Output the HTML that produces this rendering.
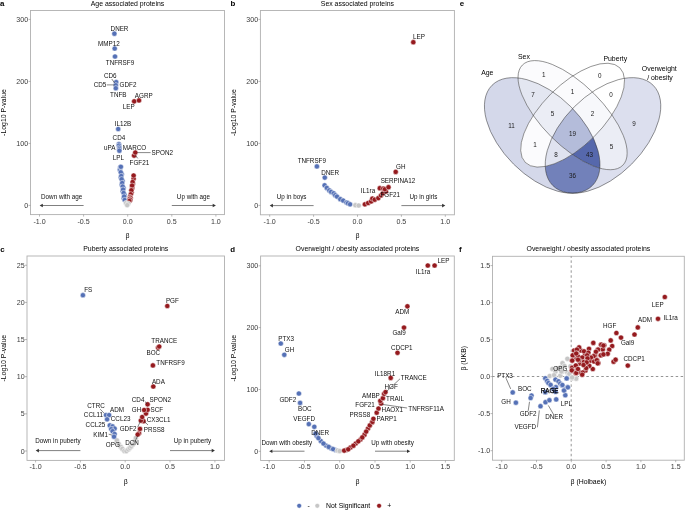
<!DOCTYPE html>
<html><head><meta charset="utf-8"><style>
html,body{margin:0;padding:0;background:#fff;width:685px;height:510px;overflow:hidden}
svg{display:block;font-family:"Liberation Sans",sans-serif;will-change:transform}
</style></head><body>
<svg width="685" height="510" viewBox="0 0 685 510" font-family="Liberation Sans, sans-serif"><rect x="30.50" y="10.50" width="194.00" height="204.10" fill="none" stroke="#b0b0b0" stroke-width="0.9"/>
<line x1="39.50" y1="214.60" x2="39.50" y2="216.60" stroke="#8c8c8c" stroke-width="0.6" />
<text x="39.50" y="223.59" font-size="7.1" text-anchor="middle" fill="#3a3a3a">-1.0</text>
<line x1="83.60" y1="214.60" x2="83.60" y2="216.60" stroke="#8c8c8c" stroke-width="0.6" />
<text x="83.60" y="223.59" font-size="7.1" text-anchor="middle" fill="#3a3a3a">-0.5</text>
<line x1="127.70" y1="214.60" x2="127.70" y2="216.60" stroke="#8c8c8c" stroke-width="0.6" />
<text x="127.70" y="223.59" font-size="7.1" text-anchor="middle" fill="#3a3a3a">0.0</text>
<line x1="171.80" y1="214.60" x2="171.80" y2="216.60" stroke="#8c8c8c" stroke-width="0.6" />
<text x="171.80" y="223.59" font-size="7.1" text-anchor="middle" fill="#3a3a3a">0.5</text>
<line x1="215.90" y1="214.60" x2="215.90" y2="216.60" stroke="#8c8c8c" stroke-width="0.6" />
<text x="215.90" y="223.59" font-size="7.1" text-anchor="middle" fill="#3a3a3a">1.0</text>
<text x="127.50" y="238.12" font-size="6.9" text-anchor="middle" fill="#000">β</text>
<line x1="28.50" y1="205.40" x2="30.50" y2="205.40" stroke="#8c8c8c" stroke-width="0.6" />
<text x="28.20" y="207.99" font-size="7.1" text-anchor="end" fill="#3a3a3a">0</text>
<line x1="28.50" y1="143.40" x2="30.50" y2="143.40" stroke="#8c8c8c" stroke-width="0.6" />
<text x="28.20" y="145.99" font-size="7.1" text-anchor="end" fill="#3a3a3a">100</text>
<line x1="28.50" y1="81.40" x2="30.50" y2="81.40" stroke="#8c8c8c" stroke-width="0.6" />
<text x="28.20" y="83.99" font-size="7.1" text-anchor="end" fill="#3a3a3a">200</text>
<line x1="28.50" y1="19.40" x2="30.50" y2="19.40" stroke="#8c8c8c" stroke-width="0.6" />
<text x="28.20" y="21.99" font-size="7.1" text-anchor="end" fill="#3a3a3a">300</text>
<text transform="translate(6.40,112.55) rotate(-90)" x="0" y="0" font-size="6.9" text-anchor="middle" fill="#000">-Log10 P-value</text>
<text x="127.50" y="5.80" font-size="6.9" text-anchor="middle" fill="#000">Age associated proteins</text>
<text x="0.00" y="5.90" font-size="7.9" text-anchor="start" fill="#000" font-weight="bold">a</text>
<text x="61.70" y="198.70" font-size="6.3" text-anchor="middle" fill="#111">Down with age</text>
<line x1="83.60" y1="205.50" x2="41.80" y2="205.50" stroke="#555" stroke-width="0.75" />
<path d="M39.60,205.50 L42.80,203.70 L42.80,207.30 Z" fill="#333"/>
<text x="193.50" y="198.70" font-size="6.3" text-anchor="middle" fill="#111">Up with age</text>
<line x1="171.80" y1="205.50" x2="213.70" y2="205.50" stroke="#555" stroke-width="0.75" />
<path d="M215.90,205.50 L212.70,203.70 L212.70,207.30 Z" fill="#333"/>
<circle cx="119.91" cy="169.65" r="2.6" fill="#5571b6" stroke="#fff" stroke-width="0.5"/>
<circle cx="121.70" cy="174.15" r="2.6" fill="#5571b6" stroke="#fff" stroke-width="0.5"/>
<circle cx="120.83" cy="177.60" r="2.6" fill="#5571b6" stroke="#fff" stroke-width="0.5"/>
<circle cx="122.59" cy="181.10" r="2.6" fill="#5571b6" stroke="#fff" stroke-width="0.5"/>
<circle cx="121.79" cy="184.75" r="2.6" fill="#5571b6" stroke="#fff" stroke-width="0.5"/>
<circle cx="123.57" cy="188.05" r="2.6" fill="#5571b6" stroke="#fff" stroke-width="0.5"/>
<circle cx="122.75" cy="191.30" r="2.6" fill="#5571b6" stroke="#fff" stroke-width="0.5"/>
<circle cx="124.57" cy="194.75" r="2.6" fill="#5571b6" stroke="#fff" stroke-width="0.5"/>
<circle cx="123.82" cy="198.25" r="2.6" fill="#5571b6" stroke="#fff" stroke-width="0.5"/>
<circle cx="120.30" cy="167.00" r="2.6" fill="#5571b6" stroke="#fff" stroke-width="0.5"/>
<circle cx="120.79" cy="172.30" r="2.6" fill="#5571b6" stroke="#fff" stroke-width="0.5"/>
<circle cx="121.23" cy="176.00" r="2.6" fill="#5571b6" stroke="#fff" stroke-width="0.5"/>
<circle cx="121.63" cy="179.20" r="2.6" fill="#5571b6" stroke="#fff" stroke-width="0.5"/>
<circle cx="122.15" cy="183.00" r="2.6" fill="#5571b6" stroke="#fff" stroke-width="0.5"/>
<circle cx="122.64" cy="186.50" r="2.6" fill="#5571b6" stroke="#fff" stroke-width="0.5"/>
<circle cx="123.09" cy="189.60" r="2.6" fill="#5571b6" stroke="#fff" stroke-width="0.5"/>
<circle cx="123.61" cy="193.00" r="2.6" fill="#5571b6" stroke="#fff" stroke-width="0.5"/>
<circle cx="124.15" cy="196.50" r="2.6" fill="#5571b6" stroke="#fff" stroke-width="0.5"/>
<circle cx="124.70" cy="200.00" r="2.6" fill="#5571b6" stroke="#fff" stroke-width="0.5"/>
<circle cx="133.61" cy="178.75" r="2.6" fill="#951a1e" stroke="#fff" stroke-width="0.5"/>
<circle cx="132.85" cy="183.80" r="2.6" fill="#951a1e" stroke="#fff" stroke-width="0.5"/>
<circle cx="132.22" cy="187.95" r="2.6" fill="#951a1e" stroke="#fff" stroke-width="0.5"/>
<circle cx="131.56" cy="192.30" r="2.6" fill="#951a1e" stroke="#fff" stroke-width="0.5"/>
<circle cx="133.60" cy="175.50" r="2.6" fill="#951a1e" stroke="#fff" stroke-width="0.5"/>
<circle cx="132.62" cy="182.00" r="2.6" fill="#951a1e" stroke="#fff" stroke-width="0.5"/>
<circle cx="132.08" cy="185.60" r="2.6" fill="#951a1e" stroke="#fff" stroke-width="0.5"/>
<circle cx="131.37" cy="190.30" r="2.6" fill="#951a1e" stroke="#fff" stroke-width="0.5"/>
<circle cx="130.76" cy="194.30" r="2.6" fill="#951a1e" stroke="#fff" stroke-width="0.5"/>
<circle cx="129.95" cy="197.00" r="2.6" fill="#951a1e" stroke="#fff" stroke-width="0.5"/>
<circle cx="130.60" cy="198.00" r="2.6" fill="#951a1e" stroke="#fff" stroke-width="0.5"/>
<circle cx="129.65" cy="199.00" r="2.6" fill="#951a1e" stroke="#fff" stroke-width="0.5"/>
<circle cx="130.30" cy="200.00" r="2.6" fill="#951a1e" stroke="#fff" stroke-width="0.5"/>
<circle cx="129.35" cy="201.00" r="2.6" fill="#951a1e" stroke="#fff" stroke-width="0.5"/>
<circle cx="126.00" cy="203.00" r="2.6" fill="#c6c6c6" stroke="#fff" stroke-width="0.5"/>
<circle cx="128.30" cy="203.50" r="2.6" fill="#c6c6c6" stroke="#fff" stroke-width="0.5"/>
<circle cx="127.20" cy="205.10" r="2.6" fill="#c6c6c6" stroke="#fff" stroke-width="0.5"/>
<circle cx="114.40" cy="33.70" r="2.6" fill="#5571b6" stroke="#fff" stroke-width="0.5"/>
<circle cx="114.70" cy="48.50" r="2.6" fill="#5571b6" stroke="#fff" stroke-width="0.5"/>
<circle cx="115.00" cy="56.50" r="2.6" fill="#5571b6" stroke="#fff" stroke-width="0.5"/>
<circle cx="116.20" cy="82.10" r="2.6" fill="#5571b6" stroke="#fff" stroke-width="0.5"/>
<circle cx="115.80" cy="85.20" r="2.6" fill="#5571b6" stroke="#fff" stroke-width="0.5"/>
<circle cx="115.80" cy="88.20" r="2.6" fill="#5571b6" stroke="#fff" stroke-width="0.5"/>
<circle cx="134.20" cy="101.30" r="2.6" fill="#951a1e" stroke="#fff" stroke-width="0.5"/>
<circle cx="139.00" cy="100.40" r="2.6" fill="#951a1e" stroke="#fff" stroke-width="0.5"/>
<circle cx="118.20" cy="129.00" r="2.6" fill="#5571b6" stroke="#fff" stroke-width="0.5"/>
<circle cx="118.90" cy="144.10" r="2.6" fill="#5571b6" stroke="#fff" stroke-width="0.5"/>
<circle cx="118.90" cy="145.60" r="2.6" fill="#5571b6" stroke="#fff" stroke-width="0.5"/>
<circle cx="119.40" cy="147.60" r="2.6" fill="#5571b6" stroke="#fff" stroke-width="0.5"/>
<circle cx="119.40" cy="149.20" r="2.6" fill="#5571b6" stroke="#fff" stroke-width="0.5"/>
<circle cx="119.40" cy="150.70" r="2.6" fill="#5571b6" stroke="#fff" stroke-width="0.5"/>
<circle cx="134.10" cy="155.60" r="2.6" fill="#951a1e" stroke="#fff" stroke-width="0.5"/>
<circle cx="135.30" cy="152.50" r="2.6" fill="#951a1e" stroke="#fff" stroke-width="0.5"/>
<circle cx="120.90" cy="166.80" r="2.6" fill="#5571b6" stroke="#fff" stroke-width="0.5"/>
<text x="119.50" y="30.50" font-size="6.3" text-anchor="middle" fill="#111">DNER</text>
<text x="108.90" y="45.50" font-size="6.3" text-anchor="middle" fill="#111">MMP12</text>
<text x="120.00" y="64.90" font-size="6.3" text-anchor="middle" fill="#111">TNFRSF9</text>
<text x="110.30" y="78.20" font-size="6.3" text-anchor="middle" fill="#111">CD6</text>
<text x="100.00" y="87.20" font-size="6.3" text-anchor="middle" fill="#111">CD5</text>
<text x="128.00" y="87.20" font-size="6.3" text-anchor="middle" fill="#111">GDF2</text>
<text x="118.30" y="96.80" font-size="6.3" text-anchor="middle" fill="#111">TNFB</text>
<text x="143.80" y="97.80" font-size="6.3" text-anchor="middle" fill="#111">AGRP</text>
<text x="128.70" y="108.70" font-size="6.3" text-anchor="middle" fill="#111">LEP</text>
<text x="123.00" y="126.40" font-size="6.3" text-anchor="middle" fill="#111">IL12B</text>
<text x="118.90" y="140.20" font-size="6.3" text-anchor="middle" fill="#111">CD4</text>
<text x="109.70" y="150.10" font-size="6.3" text-anchor="middle" fill="#111">uPA</text>
<text x="134.50" y="149.90" font-size="6.3" text-anchor="middle" fill="#111">MARCO</text>
<text x="118.40" y="159.60" font-size="6.3" text-anchor="middle" fill="#111">LPL</text>
<text x="162.30" y="155.00" font-size="6.3" text-anchor="middle" fill="#111">SPON2</text>
<text x="139.40" y="164.90" font-size="6.3" text-anchor="middle" fill="#111">FGF21</text>
<line x1="111.80" y1="79.00" x2="114.60" y2="83.00" stroke="#222" stroke-width="0.55" />
<line x1="106.80" y1="84.90" x2="114.40" y2="84.90" stroke="#222" stroke-width="0.55" />
<line x1="137.30" y1="152.60" x2="150.60" y2="152.60" stroke="#222" stroke-width="0.55" />
<line x1="135.30" y1="155.30" x2="137.80" y2="158.40" stroke="#222" stroke-width="0.55" />
<rect x="260.40" y="10.50" width="194.00" height="204.30" fill="none" stroke="#b0b0b0" stroke-width="0.9"/>
<line x1="269.70" y1="214.80" x2="269.70" y2="216.80" stroke="#8c8c8c" stroke-width="0.6" />
<text x="269.70" y="223.79" font-size="7.1" text-anchor="middle" fill="#3a3a3a">-1.0</text>
<line x1="313.60" y1="214.80" x2="313.60" y2="216.80" stroke="#8c8c8c" stroke-width="0.6" />
<text x="313.60" y="223.79" font-size="7.1" text-anchor="middle" fill="#3a3a3a">-0.5</text>
<line x1="357.50" y1="214.80" x2="357.50" y2="216.80" stroke="#8c8c8c" stroke-width="0.6" />
<text x="357.50" y="223.79" font-size="7.1" text-anchor="middle" fill="#3a3a3a">0.0</text>
<line x1="401.40" y1="214.80" x2="401.40" y2="216.80" stroke="#8c8c8c" stroke-width="0.6" />
<text x="401.40" y="223.79" font-size="7.1" text-anchor="middle" fill="#3a3a3a">0.5</text>
<line x1="445.30" y1="214.80" x2="445.30" y2="216.80" stroke="#8c8c8c" stroke-width="0.6" />
<text x="445.30" y="223.79" font-size="7.1" text-anchor="middle" fill="#3a3a3a">1.0</text>
<text x="357.40" y="238.32" font-size="6.9" text-anchor="middle" fill="#000">β</text>
<line x1="258.40" y1="205.40" x2="260.40" y2="205.40" stroke="#8c8c8c" stroke-width="0.6" />
<text x="258.10" y="207.99" font-size="7.1" text-anchor="end" fill="#3a3a3a">0</text>
<line x1="258.40" y1="143.40" x2="260.40" y2="143.40" stroke="#8c8c8c" stroke-width="0.6" />
<text x="258.10" y="145.99" font-size="7.1" text-anchor="end" fill="#3a3a3a">100</text>
<line x1="258.40" y1="81.40" x2="260.40" y2="81.40" stroke="#8c8c8c" stroke-width="0.6" />
<text x="258.10" y="83.99" font-size="7.1" text-anchor="end" fill="#3a3a3a">200</text>
<line x1="258.40" y1="19.40" x2="260.40" y2="19.40" stroke="#8c8c8c" stroke-width="0.6" />
<text x="258.10" y="21.99" font-size="7.1" text-anchor="end" fill="#3a3a3a">300</text>
<text transform="translate(236.20,112.65) rotate(-90)" x="0" y="0" font-size="6.9" text-anchor="middle" fill="#000">-Log10 P-value</text>
<text x="357.40" y="5.80" font-size="6.9" text-anchor="middle" fill="#000">Sex associated proteins</text>
<text x="230.40" y="5.90" font-size="7.9" text-anchor="start" fill="#000" font-weight="bold">b</text>
<text x="291.60" y="199.10" font-size="6.3" text-anchor="middle" fill="#111">Up in boys</text>
<line x1="313.60" y1="205.60" x2="271.90" y2="205.60" stroke="#555" stroke-width="0.75" />
<path d="M269.70,205.60 L272.90,203.80 L272.90,207.40 Z" fill="#333"/>
<text x="423.40" y="199.10" font-size="6.3" text-anchor="middle" fill="#111">Up in girls</text>
<line x1="401.40" y1="205.60" x2="443.10" y2="205.60" stroke="#555" stroke-width="0.75" />
<path d="M445.30,205.60 L442.10,203.80 L442.10,207.40 Z" fill="#333"/>
<circle cx="413.30" cy="42.20" r="2.6" fill="#951a1e" stroke="#fff" stroke-width="0.5"/>
<circle cx="316.90" cy="166.40" r="2.6" fill="#5571b6" stroke="#fff" stroke-width="0.5"/>
<circle cx="324.80" cy="177.60" r="2.6" fill="#5571b6" stroke="#fff" stroke-width="0.5"/>
<circle cx="324.60" cy="185.30" r="2.6" fill="#5571b6" stroke="#fff" stroke-width="0.5"/>
<circle cx="326.80" cy="187.90" r="2.6" fill="#5571b6" stroke="#fff" stroke-width="0.5"/>
<circle cx="329.30" cy="190.40" r="2.6" fill="#5571b6" stroke="#fff" stroke-width="0.5"/>
<circle cx="331.10" cy="191.90" r="2.6" fill="#5571b6" stroke="#fff" stroke-width="0.5"/>
<circle cx="333.70" cy="193.30" r="2.6" fill="#5571b6" stroke="#fff" stroke-width="0.5"/>
<circle cx="335.20" cy="195.20" r="2.6" fill="#5571b6" stroke="#fff" stroke-width="0.5"/>
<circle cx="337.00" cy="196.60" r="2.6" fill="#5571b6" stroke="#fff" stroke-width="0.5"/>
<circle cx="340.30" cy="199.20" r="2.6" fill="#5571b6" stroke="#fff" stroke-width="0.5"/>
<circle cx="343.20" cy="200.60" r="2.6" fill="#5571b6" stroke="#fff" stroke-width="0.5"/>
<circle cx="346.50" cy="202.50" r="2.6" fill="#5571b6" stroke="#fff" stroke-width="0.5"/>
<circle cx="347.90" cy="203.20" r="2.6" fill="#5571b6" stroke="#fff" stroke-width="0.5"/>
<circle cx="350.10" cy="204.30" r="2.6" fill="#5571b6" stroke="#fff" stroke-width="0.5"/>
<circle cx="355.40" cy="205.20" r="2.6" fill="#c6c6c6" stroke="#fff" stroke-width="0.5"/>
<circle cx="358.70" cy="205.50" r="2.6" fill="#c6c6c6" stroke="#fff" stroke-width="0.5"/>
<circle cx="364.90" cy="204.30" r="2.6" fill="#951a1e" stroke="#fff" stroke-width="0.5"/>
<circle cx="368.10" cy="203.00" r="2.6" fill="#951a1e" stroke="#fff" stroke-width="0.5"/>
<circle cx="371.10" cy="201.40" r="2.6" fill="#951a1e" stroke="#fff" stroke-width="0.5"/>
<circle cx="372.40" cy="198.60" r="2.6" fill="#951a1e" stroke="#fff" stroke-width="0.5"/>
<circle cx="374.70" cy="199.70" r="2.6" fill="#951a1e" stroke="#fff" stroke-width="0.5"/>
<circle cx="378.30" cy="198.10" r="2.6" fill="#951a1e" stroke="#fff" stroke-width="0.5"/>
<circle cx="381.00" cy="195.40" r="2.6" fill="#951a1e" stroke="#fff" stroke-width="0.5"/>
<circle cx="382.60" cy="193.50" r="2.6" fill="#951a1e" stroke="#fff" stroke-width="0.5"/>
<circle cx="385.90" cy="191.50" r="2.6" fill="#951a1e" stroke="#fff" stroke-width="0.5"/>
<circle cx="379.80" cy="188.20" r="2.6" fill="#951a1e" stroke="#fff" stroke-width="0.5"/>
<circle cx="383.30" cy="188.50" r="2.6" fill="#951a1e" stroke="#fff" stroke-width="0.5"/>
<circle cx="384.90" cy="189.20" r="2.6" fill="#951a1e" stroke="#fff" stroke-width="0.5"/>
<circle cx="388.50" cy="187.20" r="2.6" fill="#951a1e" stroke="#fff" stroke-width="0.5"/>
<circle cx="395.70" cy="171.90" r="2.6" fill="#951a1e" stroke="#fff" stroke-width="0.5"/>
<text x="419.00" y="38.80" font-size="6.3" text-anchor="middle" fill="#111">LEP</text>
<text x="311.80" y="163.10" font-size="6.3" text-anchor="middle" fill="#111">TNFRSF9</text>
<text x="330.20" y="174.80" font-size="6.3" text-anchor="middle" fill="#111">DNER</text>
<text x="400.80" y="169.00" font-size="6.3" text-anchor="middle" fill="#111">GH</text>
<text x="398.00" y="183.20" font-size="6.3" text-anchor="middle" fill="#111">SERPINA12</text>
<text x="368.00" y="193.20" font-size="6.3" text-anchor="middle" fill="#111">IL1ra</text>
<text x="390.30" y="196.70" font-size="6.3" text-anchor="middle" fill="#111">FGF21</text>
<rect x="27.00" y="256.00" width="197.50" height="204.40" fill="none" stroke="#b0b0b0" stroke-width="0.9"/>
<line x1="35.60" y1="460.40" x2="35.60" y2="462.40" stroke="#8c8c8c" stroke-width="0.6" />
<text x="35.60" y="469.39" font-size="7.1" text-anchor="middle" fill="#3a3a3a">-1.0</text>
<line x1="80.40" y1="460.40" x2="80.40" y2="462.40" stroke="#8c8c8c" stroke-width="0.6" />
<text x="80.40" y="469.39" font-size="7.1" text-anchor="middle" fill="#3a3a3a">-0.5</text>
<line x1="125.20" y1="460.40" x2="125.20" y2="462.40" stroke="#8c8c8c" stroke-width="0.6" />
<text x="125.20" y="469.39" font-size="7.1" text-anchor="middle" fill="#3a3a3a">0.0</text>
<line x1="170.00" y1="460.40" x2="170.00" y2="462.40" stroke="#8c8c8c" stroke-width="0.6" />
<text x="170.00" y="469.39" font-size="7.1" text-anchor="middle" fill="#3a3a3a">0.5</text>
<line x1="214.90" y1="460.40" x2="214.90" y2="462.40" stroke="#8c8c8c" stroke-width="0.6" />
<text x="214.90" y="469.39" font-size="7.1" text-anchor="middle" fill="#3a3a3a">1.0</text>
<text x="125.75" y="483.92" font-size="6.9" text-anchor="middle" fill="#000">β</text>
<line x1="25.00" y1="451.00" x2="27.00" y2="451.00" stroke="#8c8c8c" stroke-width="0.6" />
<text x="24.70" y="453.59" font-size="7.1" text-anchor="end" fill="#3a3a3a">0</text>
<line x1="25.00" y1="413.85" x2="27.00" y2="413.85" stroke="#8c8c8c" stroke-width="0.6" />
<text x="24.70" y="416.44" font-size="7.1" text-anchor="end" fill="#3a3a3a">5</text>
<line x1="25.00" y1="376.70" x2="27.00" y2="376.70" stroke="#8c8c8c" stroke-width="0.6" />
<text x="24.70" y="379.29" font-size="7.1" text-anchor="end" fill="#3a3a3a">10</text>
<line x1="25.00" y1="339.55" x2="27.00" y2="339.55" stroke="#8c8c8c" stroke-width="0.6" />
<text x="24.70" y="342.14" font-size="7.1" text-anchor="end" fill="#3a3a3a">15</text>
<line x1="25.00" y1="302.40" x2="27.00" y2="302.40" stroke="#8c8c8c" stroke-width="0.6" />
<text x="24.70" y="304.99" font-size="7.1" text-anchor="end" fill="#3a3a3a">20</text>
<line x1="25.00" y1="265.25" x2="27.00" y2="265.25" stroke="#8c8c8c" stroke-width="0.6" />
<text x="24.70" y="267.84" font-size="7.1" text-anchor="end" fill="#3a3a3a">25</text>
<text transform="translate(6.40,358.20) rotate(-90)" x="0" y="0" font-size="6.9" text-anchor="middle" fill="#000">-Log10 P-value</text>
<text x="125.75" y="251.40" font-size="6.9" text-anchor="middle" fill="#000">Puberty associated proteins</text>
<text x="0.30" y="251.90" font-size="7.9" text-anchor="start" fill="#000" font-weight="bold">c</text>
<text x="58.00" y="443.10" font-size="6.3" text-anchor="middle" fill="#111">Down in puberty</text>
<line x1="80.40" y1="450.60" x2="37.90" y2="450.60" stroke="#555" stroke-width="0.75" />
<path d="M35.70,450.60 L38.90,448.80 L38.90,452.40 Z" fill="#333"/>
<text x="192.50" y="443.10" font-size="6.3" text-anchor="middle" fill="#111">Up in puberty</text>
<line x1="170.00" y1="450.60" x2="212.70" y2="450.60" stroke="#555" stroke-width="0.75" />
<path d="M214.90,450.60 L211.70,448.80 L211.70,452.40 Z" fill="#333"/>
<circle cx="116.90" cy="440.40" r="2.6" fill="#c6c6c6" stroke="#fff" stroke-width="0.5"/>
<circle cx="118.70" cy="443.90" r="2.6" fill="#c6c6c6" stroke="#fff" stroke-width="0.5"/>
<circle cx="120.90" cy="446.90" r="2.6" fill="#c6c6c6" stroke="#fff" stroke-width="0.5"/>
<circle cx="122.40" cy="448.90" r="2.6" fill="#c6c6c6" stroke="#fff" stroke-width="0.5"/>
<circle cx="124.40" cy="450.90" r="2.6" fill="#c6c6c6" stroke="#fff" stroke-width="0.5"/>
<circle cx="126.40" cy="451.10" r="2.6" fill="#c6c6c6" stroke="#fff" stroke-width="0.5"/>
<circle cx="128.30" cy="449.40" r="2.6" fill="#c6c6c6" stroke="#fff" stroke-width="0.5"/>
<circle cx="129.80" cy="447.90" r="2.6" fill="#c6c6c6" stroke="#fff" stroke-width="0.5"/>
<circle cx="131.30" cy="446.40" r="2.6" fill="#c6c6c6" stroke="#fff" stroke-width="0.5"/>
<circle cx="132.80" cy="444.40" r="2.6" fill="#c6c6c6" stroke="#fff" stroke-width="0.5"/>
<circle cx="134.80" cy="440.90" r="2.6" fill="#c6c6c6" stroke="#fff" stroke-width="0.5"/>
<circle cx="135.80" cy="438.00" r="2.6" fill="#c6c6c6" stroke="#fff" stroke-width="0.5"/>
<circle cx="106.00" cy="415.10" r="2.6" fill="#5571b6" stroke="#fff" stroke-width="0.5"/>
<circle cx="109.10" cy="415.10" r="2.6" fill="#5571b6" stroke="#fff" stroke-width="0.5"/>
<circle cx="107.10" cy="419.30" r="2.6" fill="#5571b6" stroke="#fff" stroke-width="0.5"/>
<circle cx="109.80" cy="425.40" r="2.6" fill="#5571b6" stroke="#fff" stroke-width="0.5"/>
<circle cx="112.60" cy="426.40" r="2.6" fill="#5571b6" stroke="#fff" stroke-width="0.5"/>
<circle cx="114.60" cy="428.50" r="2.6" fill="#5571b6" stroke="#fff" stroke-width="0.5"/>
<circle cx="111.20" cy="429.10" r="2.6" fill="#5571b6" stroke="#fff" stroke-width="0.5"/>
<circle cx="112.60" cy="431.20" r="2.6" fill="#5571b6" stroke="#fff" stroke-width="0.5"/>
<circle cx="114.60" cy="434.00" r="2.6" fill="#5571b6" stroke="#fff" stroke-width="0.5"/>
<circle cx="114.00" cy="436.70" r="2.6" fill="#5571b6" stroke="#fff" stroke-width="0.5"/>
<circle cx="139.00" cy="433.30" r="2.6" fill="#951a1e" stroke="#fff" stroke-width="0.5"/>
<circle cx="137.70" cy="434.50" r="2.6" fill="#951a1e" stroke="#fff" stroke-width="0.5"/>
<circle cx="140.00" cy="428.90" r="2.6" fill="#951a1e" stroke="#fff" stroke-width="0.5"/>
<circle cx="143.50" cy="421.20" r="2.6" fill="#951a1e" stroke="#fff" stroke-width="0.5"/>
<circle cx="140.90" cy="420.60" r="2.6" fill="#951a1e" stroke="#fff" stroke-width="0.5"/>
<circle cx="142.20" cy="417.00" r="2.6" fill="#951a1e" stroke="#fff" stroke-width="0.5"/>
<circle cx="146.00" cy="413.60" r="2.6" fill="#951a1e" stroke="#fff" stroke-width="0.5"/>
<circle cx="147.60" cy="409.80" r="2.6" fill="#951a1e" stroke="#fff" stroke-width="0.5"/>
<circle cx="144.10" cy="410.00" r="2.6" fill="#951a1e" stroke="#fff" stroke-width="0.5"/>
<circle cx="147.60" cy="404.30" r="2.6" fill="#951a1e" stroke="#fff" stroke-width="0.5"/>
<circle cx="82.90" cy="295.20" r="2.6" fill="#5571b6" stroke="#fff" stroke-width="0.5"/>
<circle cx="167.30" cy="306.00" r="2.6" fill="#951a1e" stroke="#fff" stroke-width="0.5"/>
<circle cx="158.10" cy="347.60" r="2.6" fill="#951a1e" stroke="#fff" stroke-width="0.5"/>
<circle cx="159.20" cy="346.50" r="2.6" fill="#951a1e" stroke="#fff" stroke-width="0.5"/>
<circle cx="152.90" cy="365.40" r="2.6" fill="#951a1e" stroke="#fff" stroke-width="0.5"/>
<circle cx="153.30" cy="386.50" r="2.6" fill="#951a1e" stroke="#fff" stroke-width="0.5"/>
<text x="88.20" y="292.00" font-size="6.3" text-anchor="middle" fill="#111">FS</text>
<text x="172.40" y="302.80" font-size="6.3" text-anchor="middle" fill="#111">PGF</text>
<text x="164.30" y="343.00" font-size="6.3" text-anchor="middle" fill="#111">TRANCE</text>
<text x="153.30" y="354.90" font-size="6.3" text-anchor="middle" fill="#111">BOC</text>
<text x="170.50" y="364.80" font-size="6.3" text-anchor="middle" fill="#111">TNFRSF9</text>
<text x="158.40" y="384.00" font-size="6.3" text-anchor="middle" fill="#111">ADA</text>
<text x="138.10" y="401.90" font-size="6.3" text-anchor="middle" fill="#111">CD4</text>
<text x="160.30" y="401.90" font-size="6.3" text-anchor="middle" fill="#111">SPON2</text>
<text x="136.50" y="412.10" font-size="6.3" text-anchor="middle" fill="#111">GH</text>
<text x="156.90" y="412.30" font-size="6.3" text-anchor="middle" fill="#111">SCF</text>
<text x="158.70" y="422.30" font-size="6.3" text-anchor="middle" fill="#111">CX3CL1</text>
<text x="154.20" y="431.80" font-size="6.3" text-anchor="middle" fill="#111">PRSS8</text>
<text x="128.10" y="430.80" font-size="6.3" text-anchor="middle" fill="#111">GDF2</text>
<text x="132.00" y="444.80" font-size="6.3" text-anchor="middle" fill="#111">DCN</text>
<text x="96.00" y="407.80" font-size="6.3" text-anchor="middle" fill="#111">CTRC</text>
<text x="117.00" y="411.90" font-size="6.3" text-anchor="middle" fill="#111">ADM</text>
<text x="93.40" y="417.40" font-size="6.3" text-anchor="middle" fill="#111">CCL11</text>
<text x="120.60" y="421.10" font-size="6.3" text-anchor="middle" fill="#111">CCL23</text>
<text x="95.40" y="427.30" font-size="6.3" text-anchor="middle" fill="#111">CCL25</text>
<text x="100.60" y="436.90" font-size="6.3" text-anchor="middle" fill="#111">KIM1</text>
<text x="112.80" y="446.60" font-size="6.3" text-anchor="middle" fill="#111">OPG</text>
<line x1="145.40" y1="401.50" x2="146.70" y2="404.00" stroke="#222" stroke-width="0.55" />
<line x1="137.70" y1="427.00" x2="140.90" y2="420.30" stroke="#222" stroke-width="0.55" />
<line x1="148.00" y1="425.00" x2="144.10" y2="421.20" stroke="#222" stroke-width="0.55" />
<line x1="135.80" y1="439.70" x2="137.70" y2="435.90" stroke="#222" stroke-width="0.55" />
<line x1="100.20" y1="409.20" x2="104.30" y2="413.40" stroke="#222" stroke-width="0.55" />
<line x1="108.70" y1="434.20" x2="111.90" y2="435.00" stroke="#222" stroke-width="0.55" />
<rect x="260.60" y="256.00" width="193.70" height="204.50" fill="none" stroke="#b0b0b0" stroke-width="0.9"/>
<line x1="269.20" y1="460.50" x2="269.20" y2="462.50" stroke="#8c8c8c" stroke-width="0.6" />
<text x="269.20" y="469.49" font-size="7.1" text-anchor="middle" fill="#3a3a3a">-1.0</text>
<line x1="304.50" y1="460.50" x2="304.50" y2="462.50" stroke="#8c8c8c" stroke-width="0.6" />
<text x="304.50" y="469.49" font-size="7.1" text-anchor="middle" fill="#3a3a3a">-0.5</text>
<line x1="339.70" y1="460.50" x2="339.70" y2="462.50" stroke="#8c8c8c" stroke-width="0.6" />
<text x="339.70" y="469.49" font-size="7.1" text-anchor="middle" fill="#3a3a3a">0.0</text>
<line x1="375.00" y1="460.50" x2="375.00" y2="462.50" stroke="#8c8c8c" stroke-width="0.6" />
<text x="375.00" y="469.49" font-size="7.1" text-anchor="middle" fill="#3a3a3a">0.5</text>
<line x1="410.20" y1="460.50" x2="410.20" y2="462.50" stroke="#8c8c8c" stroke-width="0.6" />
<text x="410.20" y="469.49" font-size="7.1" text-anchor="middle" fill="#3a3a3a">1.0</text>
<line x1="445.40" y1="460.50" x2="445.40" y2="462.50" stroke="#8c8c8c" stroke-width="0.6" />
<text x="445.40" y="469.49" font-size="7.1" text-anchor="middle" fill="#3a3a3a">1.5</text>
<text x="357.45" y="484.02" font-size="6.9" text-anchor="middle" fill="#000">β</text>
<line x1="258.60" y1="451.30" x2="260.60" y2="451.30" stroke="#8c8c8c" stroke-width="0.6" />
<text x="258.30" y="453.89" font-size="7.1" text-anchor="end" fill="#3a3a3a">0</text>
<line x1="258.60" y1="389.50" x2="260.60" y2="389.50" stroke="#8c8c8c" stroke-width="0.6" />
<text x="258.30" y="392.09" font-size="7.1" text-anchor="end" fill="#3a3a3a">100</text>
<line x1="258.60" y1="327.60" x2="260.60" y2="327.60" stroke="#8c8c8c" stroke-width="0.6" />
<text x="258.30" y="330.19" font-size="7.1" text-anchor="end" fill="#3a3a3a">200</text>
<line x1="258.60" y1="265.80" x2="260.60" y2="265.80" stroke="#8c8c8c" stroke-width="0.6" />
<text x="258.30" y="268.39" font-size="7.1" text-anchor="end" fill="#3a3a3a">300</text>
<text transform="translate(236.40,358.25) rotate(-90)" x="0" y="0" font-size="6.9" text-anchor="middle" fill="#000">-Log10 P-value</text>
<text x="357.45" y="251.40" font-size="6.9" text-anchor="middle" fill="#000">Overweight / obesity associated proteins</text>
<text x="230.30" y="251.80" font-size="7.9" text-anchor="start" fill="#000" font-weight="bold">d</text>
<text x="286.90" y="444.80" font-size="6.3" text-anchor="middle" fill="#111">Down with obesity</text>
<line x1="304.50" y1="451.20" x2="271.40" y2="451.20" stroke="#555" stroke-width="0.75" />
<path d="M269.20,451.20 L272.40,449.40 L272.40,453.00 Z" fill="#333"/>
<text x="392.60" y="444.80" font-size="6.3" text-anchor="middle" fill="#111">Up with obesity</text>
<line x1="375.00" y1="451.20" x2="408.00" y2="451.20" stroke="#555" stroke-width="0.75" />
<path d="M410.20,451.20 L407.00,449.40 L407.00,453.00 Z" fill="#333"/>
<circle cx="280.80" cy="343.50" r="2.6" fill="#5571b6" stroke="#fff" stroke-width="0.5"/>
<circle cx="284.30" cy="354.80" r="2.6" fill="#5571b6" stroke="#fff" stroke-width="0.5"/>
<circle cx="298.90" cy="393.50" r="2.6" fill="#5571b6" stroke="#fff" stroke-width="0.5"/>
<circle cx="300.10" cy="402.90" r="2.6" fill="#5571b6" stroke="#fff" stroke-width="0.5"/>
<circle cx="316.60" cy="435.80" r="2.6" fill="#5571b6" stroke="#fff" stroke-width="0.5"/>
<circle cx="320.80" cy="441.00" r="2.6" fill="#5571b6" stroke="#fff" stroke-width="0.5"/>
<circle cx="326.00" cy="445.50" r="2.6" fill="#5571b6" stroke="#fff" stroke-width="0.5"/>
<circle cx="331.00" cy="448.30" r="2.6" fill="#5571b6" stroke="#fff" stroke-width="0.5"/>
<circle cx="335.50" cy="450.00" r="2.6" fill="#5571b6" stroke="#fff" stroke-width="0.5"/>
<circle cx="308.80" cy="424.10" r="2.6" fill="#5571b6" stroke="#fff" stroke-width="0.5"/>
<circle cx="314.30" cy="426.80" r="2.6" fill="#5571b6" stroke="#fff" stroke-width="0.5"/>
<circle cx="315.60" cy="433.50" r="2.6" fill="#5571b6" stroke="#fff" stroke-width="0.5"/>
<circle cx="318.40" cy="438.10" r="2.6" fill="#5571b6" stroke="#fff" stroke-width="0.5"/>
<circle cx="323.50" cy="443.50" r="2.6" fill="#5571b6" stroke="#fff" stroke-width="0.5"/>
<circle cx="328.70" cy="446.90" r="2.6" fill="#5571b6" stroke="#fff" stroke-width="0.5"/>
<circle cx="333.10" cy="449.10" r="2.6" fill="#5571b6" stroke="#fff" stroke-width="0.5"/>
<circle cx="337.60" cy="450.60" r="2.6" fill="#c6c6c6" stroke="#fff" stroke-width="0.5"/>
<circle cx="339.70" cy="451.10" r="2.6" fill="#c6c6c6" stroke="#fff" stroke-width="0.5"/>
<circle cx="372.00" cy="422.40" r="2.6" fill="#951a1e" stroke="#fff" stroke-width="0.5"/>
<circle cx="368.00" cy="428.50" r="2.6" fill="#951a1e" stroke="#fff" stroke-width="0.5"/>
<circle cx="364.50" cy="434.70" r="2.6" fill="#951a1e" stroke="#fff" stroke-width="0.5"/>
<circle cx="360.50" cy="439.50" r="2.6" fill="#951a1e" stroke="#fff" stroke-width="0.5"/>
<circle cx="355.70" cy="443.50" r="2.6" fill="#951a1e" stroke="#fff" stroke-width="0.5"/>
<circle cx="350.40" cy="447.50" r="2.6" fill="#951a1e" stroke="#fff" stroke-width="0.5"/>
<circle cx="346.00" cy="450.00" r="2.6" fill="#951a1e" stroke="#fff" stroke-width="0.5"/>
<circle cx="344.20" cy="450.60" r="2.6" fill="#951a1e" stroke="#fff" stroke-width="0.5"/>
<circle cx="348.20" cy="449.30" r="2.6" fill="#951a1e" stroke="#fff" stroke-width="0.5"/>
<circle cx="353.40" cy="445.70" r="2.6" fill="#951a1e" stroke="#fff" stroke-width="0.5"/>
<circle cx="358.30" cy="441.30" r="2.6" fill="#951a1e" stroke="#fff" stroke-width="0.5"/>
<circle cx="362.30" cy="437.40" r="2.6" fill="#951a1e" stroke="#fff" stroke-width="0.5"/>
<circle cx="366.20" cy="431.60" r="2.6" fill="#951a1e" stroke="#fff" stroke-width="0.5"/>
<circle cx="369.80" cy="425.40" r="2.6" fill="#951a1e" stroke="#fff" stroke-width="0.5"/>
<circle cx="372.40" cy="421.90" r="2.6" fill="#951a1e" stroke="#fff" stroke-width="0.5"/>
<circle cx="373.40" cy="418.80" r="2.6" fill="#951a1e" stroke="#fff" stroke-width="0.5"/>
<circle cx="376.70" cy="412.70" r="2.6" fill="#951a1e" stroke="#fff" stroke-width="0.5"/>
<circle cx="378.50" cy="408.50" r="2.6" fill="#951a1e" stroke="#fff" stroke-width="0.5"/>
<circle cx="381.10" cy="403.50" r="2.6" fill="#951a1e" stroke="#fff" stroke-width="0.5"/>
<circle cx="380.30" cy="400.90" r="2.6" fill="#951a1e" stroke="#fff" stroke-width="0.5"/>
<circle cx="382.90" cy="398.20" r="2.6" fill="#951a1e" stroke="#fff" stroke-width="0.5"/>
<circle cx="384.10" cy="393.80" r="2.6" fill="#951a1e" stroke="#fff" stroke-width="0.5"/>
<circle cx="385.50" cy="392.10" r="2.6" fill="#951a1e" stroke="#fff" stroke-width="0.5"/>
<circle cx="390.70" cy="377.90" r="2.6" fill="#951a1e" stroke="#fff" stroke-width="0.5"/>
<circle cx="397.50" cy="352.80" r="2.6" fill="#951a1e" stroke="#fff" stroke-width="0.5"/>
<circle cx="404.00" cy="327.60" r="2.6" fill="#951a1e" stroke="#fff" stroke-width="0.5"/>
<circle cx="407.40" cy="306.30" r="2.6" fill="#951a1e" stroke="#fff" stroke-width="0.5"/>
<circle cx="427.80" cy="265.50" r="2.6" fill="#951a1e" stroke="#fff" stroke-width="0.5"/>
<circle cx="434.60" cy="265.50" r="2.6" fill="#951a1e" stroke="#fff" stroke-width="0.5"/>
<text x="443.50" y="263.00" font-size="6.3" text-anchor="middle" fill="#111">LEP</text>
<text x="423.00" y="273.80" font-size="6.3" text-anchor="middle" fill="#111">IL1ra</text>
<text x="402.20" y="314.30" font-size="6.3" text-anchor="middle" fill="#111">ADM</text>
<text x="399.10" y="335.40" font-size="6.3" text-anchor="middle" fill="#111">Gal9</text>
<text x="401.80" y="349.60" font-size="6.3" text-anchor="middle" fill="#111">CDCP1</text>
<text x="385.00" y="375.50" font-size="6.3" text-anchor="middle" fill="#111">IL18R1</text>
<text x="413.70" y="379.70" font-size="6.3" text-anchor="middle" fill="#111">TRANCE</text>
<text x="391.20" y="389.10" font-size="6.3" text-anchor="middle" fill="#111">HGF</text>
<text x="370.90" y="397.50" font-size="6.3" text-anchor="middle" fill="#111">AMBP</text>
<text x="395.00" y="401.40" font-size="6.3" text-anchor="middle" fill="#111">TRAIL</text>
<text x="365.10" y="406.70" font-size="6.3" text-anchor="middle" fill="#111">FGF21</text>
<text x="392.30" y="411.50" font-size="6.3" text-anchor="middle" fill="#111">HAOX1</text>
<text x="426.10" y="410.60" font-size="6.3" text-anchor="middle" fill="#111">TNFRSF11A</text>
<text x="359.90" y="417.00" font-size="6.3" text-anchor="middle" fill="#111">PRSS8</text>
<text x="386.60" y="421.20" font-size="6.3" text-anchor="middle" fill="#111">PARP1</text>
<text x="286.20" y="340.70" font-size="6.3" text-anchor="middle" fill="#111">PTX3</text>
<text x="289.60" y="351.90" font-size="6.3" text-anchor="middle" fill="#111">GH</text>
<text x="287.80" y="401.70" font-size="6.3" text-anchor="middle" fill="#111">GDF2</text>
<text x="304.80" y="411.10" font-size="6.3" text-anchor="middle" fill="#111">BOC</text>
<text x="304.10" y="421.20" font-size="6.3" text-anchor="middle" fill="#111">VEGFD</text>
<text x="320.10" y="434.70" font-size="6.3" text-anchor="middle" fill="#111">DNER</text>
<line x1="400.00" y1="378.80" x2="385.90" y2="392.10" stroke="#222" stroke-width="0.55" />
<line x1="407.10" y1="408.00" x2="382.40" y2="404.40" stroke="#222" stroke-width="0.55" />
<rect x="492.50" y="256.30" width="191.80" height="203.90" fill="none" stroke="#b0b0b0" stroke-width="0.9"/>
<line x1="501.70" y1="460.20" x2="501.70" y2="462.20" stroke="#8c8c8c" stroke-width="0.6" />
<text x="501.70" y="469.19" font-size="7.1" text-anchor="middle" fill="#3a3a3a">-1.0</text>
<line x1="536.50" y1="460.20" x2="536.50" y2="462.20" stroke="#8c8c8c" stroke-width="0.6" />
<text x="536.50" y="469.19" font-size="7.1" text-anchor="middle" fill="#3a3a3a">-0.5</text>
<line x1="571.30" y1="460.20" x2="571.30" y2="462.20" stroke="#8c8c8c" stroke-width="0.6" />
<text x="571.30" y="469.19" font-size="7.1" text-anchor="middle" fill="#3a3a3a">0.0</text>
<line x1="606.10" y1="460.20" x2="606.10" y2="462.20" stroke="#8c8c8c" stroke-width="0.6" />
<text x="606.10" y="469.19" font-size="7.1" text-anchor="middle" fill="#3a3a3a">0.5</text>
<line x1="640.90" y1="460.20" x2="640.90" y2="462.20" stroke="#8c8c8c" stroke-width="0.6" />
<text x="640.90" y="469.19" font-size="7.1" text-anchor="middle" fill="#3a3a3a">1.0</text>
<line x1="675.70" y1="460.20" x2="675.70" y2="462.20" stroke="#8c8c8c" stroke-width="0.6" />
<text x="675.70" y="469.19" font-size="7.1" text-anchor="middle" fill="#3a3a3a">1.5</text>
<text x="588.40" y="483.72" font-size="6.9" text-anchor="middle" fill="#000">β (Holbaek)</text>
<line x1="490.50" y1="450.70" x2="492.50" y2="450.70" stroke="#8c8c8c" stroke-width="0.6" />
<text x="490.20" y="453.29" font-size="7.1" text-anchor="end" fill="#3a3a3a">-1.0</text>
<line x1="490.50" y1="413.60" x2="492.50" y2="413.60" stroke="#8c8c8c" stroke-width="0.6" />
<text x="490.20" y="416.19" font-size="7.1" text-anchor="end" fill="#3a3a3a">-0.5</text>
<line x1="490.50" y1="376.60" x2="492.50" y2="376.60" stroke="#8c8c8c" stroke-width="0.6" />
<text x="490.20" y="379.19" font-size="7.1" text-anchor="end" fill="#3a3a3a">0.0</text>
<line x1="490.50" y1="339.60" x2="492.50" y2="339.60" stroke="#8c8c8c" stroke-width="0.6" />
<text x="490.20" y="342.19" font-size="7.1" text-anchor="end" fill="#3a3a3a">0.5</text>
<line x1="490.50" y1="302.60" x2="492.50" y2="302.60" stroke="#8c8c8c" stroke-width="0.6" />
<text x="490.20" y="305.19" font-size="7.1" text-anchor="end" fill="#3a3a3a">1.0</text>
<line x1="490.50" y1="265.60" x2="492.50" y2="265.60" stroke="#8c8c8c" stroke-width="0.6" />
<text x="490.20" y="268.19" font-size="7.1" text-anchor="end" fill="#3a3a3a">1.5</text>
<text transform="translate(466.40,358.25) rotate(-90)" x="0" y="0" font-size="6.9" text-anchor="middle" fill="#000">β (UKB)</text>
<text x="588.40" y="251.40" font-size="6.9" text-anchor="middle" fill="#000">Overweight / obesity associated proteins</text>
<text x="459.00" y="251.60" font-size="7.9" text-anchor="start" fill="#000" font-weight="bold">f</text>
<line x1="571.20" y1="256.30" x2="571.20" y2="460.20" stroke="#7a7a7a" stroke-width="0.8" stroke-dasharray="2.48,2.48" stroke-dashoffset="0.89"/>
<line x1="492.50" y1="376.50" x2="684.30" y2="376.50" stroke="#7a7a7a" stroke-width="0.8" stroke-dasharray="2.48,2.48" stroke-dashoffset="0.34"/>
<circle cx="567.40" cy="358.80" r="2.6" fill="#c6c6c6" stroke="#fff" stroke-width="0.5"/>
<circle cx="562.50" cy="363.20" r="2.6" fill="#c6c6c6" stroke="#fff" stroke-width="0.5"/>
<circle cx="552.40" cy="369.00" r="2.6" fill="#c6c6c6" stroke="#fff" stroke-width="0.5"/>
<circle cx="555.50" cy="371.60" r="2.6" fill="#c6c6c6" stroke="#fff" stroke-width="0.5"/>
<circle cx="549.70" cy="376.00" r="2.6" fill="#c6c6c6" stroke="#fff" stroke-width="0.5"/>
<circle cx="554.10" cy="375.20" r="2.6" fill="#c6c6c6" stroke="#fff" stroke-width="0.5"/>
<circle cx="560.30" cy="375.60" r="2.6" fill="#c6c6c6" stroke="#fff" stroke-width="0.5"/>
<circle cx="562.50" cy="371.60" r="2.6" fill="#c6c6c6" stroke="#fff" stroke-width="0.5"/>
<circle cx="567.40" cy="372.50" r="2.6" fill="#c6c6c6" stroke="#fff" stroke-width="0.5"/>
<circle cx="569.10" cy="374.70" r="2.6" fill="#c6c6c6" stroke="#fff" stroke-width="0.5"/>
<circle cx="572.20" cy="378.30" r="2.6" fill="#c6c6c6" stroke="#fff" stroke-width="0.5"/>
<circle cx="576.20" cy="378.70" r="2.6" fill="#c6c6c6" stroke="#fff" stroke-width="0.5"/>
<circle cx="570.50" cy="366.30" r="2.6" fill="#c6c6c6" stroke="#fff" stroke-width="0.5"/>
<circle cx="560.30" cy="367.70" r="2.6" fill="#c6c6c6" stroke="#fff" stroke-width="0.5"/>
<circle cx="557.70" cy="368.50" r="2.6" fill="#c6c6c6" stroke="#fff" stroke-width="0.5"/>
<circle cx="569.40" cy="373.90" r="2.6" fill="#c6c6c6" stroke="#fff" stroke-width="0.5"/>
<circle cx="572.10" cy="377.40" r="2.6" fill="#c6c6c6" stroke="#fff" stroke-width="0.5"/>
<circle cx="561.40" cy="371.50" r="2.6" fill="#c6c6c6" stroke="#fff" stroke-width="0.5"/>
<circle cx="564.50" cy="366.00" r="2.6" fill="#c6c6c6" stroke="#fff" stroke-width="0.5"/>
<circle cx="545.30" cy="378.30" r="2.6" fill="#5571b6" stroke="#fff" stroke-width="0.5"/>
<circle cx="547.10" cy="380.90" r="2.6" fill="#5571b6" stroke="#fff" stroke-width="0.5"/>
<circle cx="548.40" cy="383.10" r="2.6" fill="#5571b6" stroke="#fff" stroke-width="0.5"/>
<circle cx="550.60" cy="384.90" r="2.6" fill="#5571b6" stroke="#fff" stroke-width="0.5"/>
<circle cx="555.50" cy="379.60" r="2.6" fill="#5571b6" stroke="#fff" stroke-width="0.5"/>
<circle cx="558.50" cy="381.30" r="2.6" fill="#5571b6" stroke="#fff" stroke-width="0.5"/>
<circle cx="560.30" cy="383.60" r="2.6" fill="#5571b6" stroke="#fff" stroke-width="0.5"/>
<circle cx="562.10" cy="385.30" r="2.6" fill="#5571b6" stroke="#fff" stroke-width="0.5"/>
<circle cx="566.50" cy="378.30" r="2.6" fill="#5571b6" stroke="#fff" stroke-width="0.5"/>
<circle cx="567.40" cy="387.10" r="2.6" fill="#5571b6" stroke="#fff" stroke-width="0.5"/>
<circle cx="564.30" cy="389.70" r="2.6" fill="#5571b6" stroke="#fff" stroke-width="0.5"/>
<circle cx="555.90" cy="387.10" r="2.6" fill="#5571b6" stroke="#fff" stroke-width="0.5"/>
<circle cx="553.20" cy="388.90" r="2.6" fill="#5571b6" stroke="#fff" stroke-width="0.5"/>
<circle cx="545.30" cy="392.40" r="2.6" fill="#5571b6" stroke="#fff" stroke-width="0.5"/>
<circle cx="512.70" cy="392.40" r="2.6" fill="#5571b6" stroke="#fff" stroke-width="0.5"/>
<circle cx="515.90" cy="402.70" r="2.6" fill="#5571b6" stroke="#fff" stroke-width="0.5"/>
<circle cx="531.50" cy="395.50" r="2.6" fill="#5571b6" stroke="#fff" stroke-width="0.5"/>
<circle cx="530.60" cy="398.00" r="2.6" fill="#5571b6" stroke="#fff" stroke-width="0.5"/>
<circle cx="540.50" cy="406.20" r="2.6" fill="#5571b6" stroke="#fff" stroke-width="0.5"/>
<circle cx="545.50" cy="402.20" r="2.6" fill="#5571b6" stroke="#fff" stroke-width="0.5"/>
<circle cx="549.40" cy="400.20" r="2.6" fill="#5571b6" stroke="#fff" stroke-width="0.5"/>
<circle cx="556.20" cy="399.40" r="2.6" fill="#5571b6" stroke="#fff" stroke-width="0.5"/>
<circle cx="565.30" cy="395.20" r="2.6" fill="#5571b6" stroke="#fff" stroke-width="0.5"/>
<circle cx="564.00" cy="390.50" r="2.6" fill="#5571b6" stroke="#fff" stroke-width="0.5"/>
<circle cx="567.90" cy="387.30" r="2.6" fill="#5571b6" stroke="#fff" stroke-width="0.5"/>
<circle cx="562.40" cy="385.00" r="2.6" fill="#5571b6" stroke="#fff" stroke-width="0.5"/>
<circle cx="566.70" cy="378.40" r="2.6" fill="#5571b6" stroke="#fff" stroke-width="0.5"/>
<circle cx="545.20" cy="392.10" r="2.6" fill="#5571b6" stroke="#fff" stroke-width="0.5"/>
<circle cx="555.40" cy="391.70" r="2.6" fill="#5571b6" stroke="#fff" stroke-width="0.5"/>
<circle cx="664.80" cy="297.00" r="2.6" fill="#951a1e" stroke="#fff" stroke-width="0.5"/>
<circle cx="658.00" cy="318.80" r="2.6" fill="#951a1e" stroke="#fff" stroke-width="0.5"/>
<circle cx="637.80" cy="327.40" r="2.6" fill="#951a1e" stroke="#fff" stroke-width="0.5"/>
<circle cx="634.50" cy="334.50" r="2.6" fill="#951a1e" stroke="#fff" stroke-width="0.5"/>
<circle cx="616.40" cy="333.00" r="2.6" fill="#951a1e" stroke="#fff" stroke-width="0.5"/>
<circle cx="621.00" cy="337.60" r="2.6" fill="#951a1e" stroke="#fff" stroke-width="0.5"/>
<circle cx="610.70" cy="340.40" r="2.6" fill="#951a1e" stroke="#fff" stroke-width="0.5"/>
<circle cx="627.80" cy="365.60" r="2.6" fill="#951a1e" stroke="#fff" stroke-width="0.5"/>
<circle cx="613.60" cy="361.70" r="2.6" fill="#951a1e" stroke="#fff" stroke-width="0.5"/>
<circle cx="615.60" cy="359.70" r="2.6" fill="#951a1e" stroke="#fff" stroke-width="0.5"/>
<circle cx="601.10" cy="344.50" r="2.6" fill="#951a1e" stroke="#fff" stroke-width="0.5"/>
<circle cx="604.30" cy="345.30" r="2.6" fill="#951a1e" stroke="#fff" stroke-width="0.5"/>
<circle cx="612.20" cy="346.00" r="2.6" fill="#951a1e" stroke="#fff" stroke-width="0.5"/>
<circle cx="597.90" cy="349.40" r="2.6" fill="#951a1e" stroke="#fff" stroke-width="0.5"/>
<circle cx="602.80" cy="349.40" r="2.6" fill="#951a1e" stroke="#fff" stroke-width="0.5"/>
<circle cx="609.20" cy="349.70" r="2.6" fill="#951a1e" stroke="#fff" stroke-width="0.5"/>
<circle cx="600.90" cy="355.30" r="2.6" fill="#951a1e" stroke="#fff" stroke-width="0.5"/>
<circle cx="607.70" cy="353.80" r="2.6" fill="#951a1e" stroke="#fff" stroke-width="0.5"/>
<circle cx="595.00" cy="355.30" r="2.6" fill="#951a1e" stroke="#fff" stroke-width="0.5"/>
<circle cx="597.00" cy="360.20" r="2.6" fill="#951a1e" stroke="#fff" stroke-width="0.5"/>
<circle cx="598.40" cy="363.10" r="2.6" fill="#951a1e" stroke="#fff" stroke-width="0.5"/>
<circle cx="593.30" cy="342.90" r="2.6" fill="#951a1e" stroke="#fff" stroke-width="0.5"/>
<circle cx="601.20" cy="344.70" r="2.6" fill="#951a1e" stroke="#fff" stroke-width="0.5"/>
<circle cx="603.40" cy="345.60" r="2.6" fill="#951a1e" stroke="#fff" stroke-width="0.5"/>
<circle cx="598.10" cy="349.60" r="2.6" fill="#951a1e" stroke="#fff" stroke-width="0.5"/>
<circle cx="595.90" cy="351.80" r="2.6" fill="#951a1e" stroke="#fff" stroke-width="0.5"/>
<circle cx="600.80" cy="355.30" r="2.6" fill="#951a1e" stroke="#fff" stroke-width="0.5"/>
<circle cx="603.40" cy="354.40" r="2.6" fill="#951a1e" stroke="#fff" stroke-width="0.5"/>
<circle cx="593.70" cy="356.20" r="2.6" fill="#951a1e" stroke="#fff" stroke-width="0.5"/>
<circle cx="581.00" cy="350.50" r="2.6" fill="#951a1e" stroke="#fff" stroke-width="0.5"/>
<circle cx="585.00" cy="355.00" r="2.6" fill="#951a1e" stroke="#fff" stroke-width="0.5"/>
<circle cx="580.00" cy="363.50" r="2.6" fill="#951a1e" stroke="#fff" stroke-width="0.5"/>
<circle cx="574.50" cy="358.00" r="2.6" fill="#951a1e" stroke="#fff" stroke-width="0.5"/>
<circle cx="590.50" cy="360.50" r="2.6" fill="#951a1e" stroke="#fff" stroke-width="0.5"/>
<circle cx="579.00" cy="372.00" r="2.6" fill="#951a1e" stroke="#fff" stroke-width="0.5"/>
<circle cx="585.50" cy="370.50" r="2.6" fill="#951a1e" stroke="#fff" stroke-width="0.5"/>
<circle cx="574.00" cy="350.50" r="2.6" fill="#951a1e" stroke="#fff" stroke-width="0.5"/>
<circle cx="589.00" cy="348.80" r="2.6" fill="#951a1e" stroke="#fff" stroke-width="0.5"/>
<circle cx="591.00" cy="357.50" r="2.6" fill="#951a1e" stroke="#fff" stroke-width="0.5"/>
<circle cx="594.10" cy="361.50" r="2.6" fill="#951a1e" stroke="#fff" stroke-width="0.5"/>
<circle cx="596.80" cy="360.20" r="2.6" fill="#951a1e" stroke="#fff" stroke-width="0.5"/>
<circle cx="597.70" cy="363.30" r="2.6" fill="#951a1e" stroke="#fff" stroke-width="0.5"/>
<circle cx="592.80" cy="369.00" r="2.6" fill="#951a1e" stroke="#fff" stroke-width="0.5"/>
<circle cx="589.30" cy="365.90" r="2.6" fill="#951a1e" stroke="#fff" stroke-width="0.5"/>
<circle cx="586.20" cy="368.10" r="2.6" fill="#951a1e" stroke="#fff" stroke-width="0.5"/>
<circle cx="579.10" cy="347.40" r="2.6" fill="#951a1e" stroke="#fff" stroke-width="0.5"/>
<circle cx="576.90" cy="349.60" r="2.6" fill="#951a1e" stroke="#fff" stroke-width="0.5"/>
<circle cx="584.00" cy="351.30" r="2.6" fill="#951a1e" stroke="#fff" stroke-width="0.5"/>
<circle cx="588.40" cy="352.70" r="2.6" fill="#951a1e" stroke="#fff" stroke-width="0.5"/>
<circle cx="573.00" cy="355.80" r="2.6" fill="#951a1e" stroke="#fff" stroke-width="0.5"/>
<circle cx="576.90" cy="353.50" r="2.6" fill="#951a1e" stroke="#fff" stroke-width="0.5"/>
<circle cx="578.20" cy="356.60" r="2.6" fill="#951a1e" stroke="#fff" stroke-width="0.5"/>
<circle cx="582.20" cy="357.50" r="2.6" fill="#951a1e" stroke="#fff" stroke-width="0.5"/>
<circle cx="587.10" cy="355.30" r="2.6" fill="#951a1e" stroke="#fff" stroke-width="0.5"/>
<circle cx="587.50" cy="358.40" r="2.6" fill="#951a1e" stroke="#fff" stroke-width="0.5"/>
<circle cx="572.10" cy="360.60" r="2.6" fill="#951a1e" stroke="#fff" stroke-width="0.5"/>
<circle cx="579.10" cy="360.20" r="2.6" fill="#951a1e" stroke="#fff" stroke-width="0.5"/>
<circle cx="584.00" cy="361.90" r="2.6" fill="#951a1e" stroke="#fff" stroke-width="0.5"/>
<circle cx="586.60" cy="362.40" r="2.6" fill="#951a1e" stroke="#fff" stroke-width="0.5"/>
<circle cx="576.00" cy="365.50" r="2.6" fill="#951a1e" stroke="#fff" stroke-width="0.5"/>
<circle cx="583.50" cy="365.00" r="2.6" fill="#951a1e" stroke="#fff" stroke-width="0.5"/>
<circle cx="572.10" cy="367.70" r="2.6" fill="#951a1e" stroke="#fff" stroke-width="0.5"/>
<circle cx="577.40" cy="369.00" r="2.6" fill="#951a1e" stroke="#fff" stroke-width="0.5"/>
<circle cx="572.50" cy="370.80" r="2.6" fill="#951a1e" stroke="#fff" stroke-width="0.5"/>
<circle cx="575.60" cy="373.00" r="2.6" fill="#951a1e" stroke="#fff" stroke-width="0.5"/>
<circle cx="582.70" cy="372.50" r="2.6" fill="#951a1e" stroke="#fff" stroke-width="0.5"/>
<circle cx="582.20" cy="374.70" r="2.6" fill="#951a1e" stroke="#fff" stroke-width="0.5"/>
<circle cx="572.70" cy="355.30" r="2.6" fill="#951a1e" stroke="#fff" stroke-width="0.5"/>
<circle cx="572.20" cy="360.60" r="2.6" fill="#951a1e" stroke="#fff" stroke-width="0.5"/>
<circle cx="576.20" cy="353.50" r="2.6" fill="#951a1e" stroke="#fff" stroke-width="0.5"/>
<circle cx="578.00" cy="359.70" r="2.6" fill="#951a1e" stroke="#fff" stroke-width="0.5"/>
<circle cx="575.80" cy="365.50" r="2.6" fill="#951a1e" stroke="#fff" stroke-width="0.5"/>
<circle cx="571.80" cy="370.30" r="2.6" fill="#951a1e" stroke="#fff" stroke-width="0.5"/>
<circle cx="576.20" cy="373.00" r="2.6" fill="#951a1e" stroke="#fff" stroke-width="0.5"/>
<circle cx="578.00" cy="369.00" r="2.6" fill="#951a1e" stroke="#fff" stroke-width="0.5"/>
<text x="657.70" y="307.20" font-size="6.3" text-anchor="middle" fill="#111">LEP</text>
<text x="670.60" y="320.30" font-size="6.3" text-anchor="middle" fill="#111">IL1ra</text>
<text x="645.00" y="322.40" font-size="6.3" text-anchor="middle" fill="#111">ADM</text>
<text x="609.70" y="328.20" font-size="6.3" text-anchor="middle" fill="#111">HGF</text>
<text x="627.60" y="344.70" font-size="6.3" text-anchor="middle" fill="#111">Gal9</text>
<text x="634.20" y="360.80" font-size="6.3" text-anchor="middle" fill="#111">CDCP1</text>
<text x="560.30" y="371.30" font-size="6.3" text-anchor="middle" fill="#111">OPG</text>
<text x="505.00" y="377.90" font-size="6.3" text-anchor="middle" fill="#111">PTX3</text>
<text x="524.80" y="390.90" font-size="6.3" text-anchor="middle" fill="#111">BOC</text>
<text x="506.00" y="404.10" font-size="6.3" text-anchor="middle" fill="#111">GH</text>
<text x="566.40" y="406.10" font-size="6.3" text-anchor="middle" fill="#111">LPL</text>
<text x="528.10" y="416.40" font-size="6.3" text-anchor="middle" fill="#111">GDF2</text>
<text x="554.20" y="418.70" font-size="6.3" text-anchor="middle" fill="#111">DNER</text>
<text x="525.30" y="429.30" font-size="6.3" text-anchor="middle" fill="#111">VEGFD</text>
<text x="549.6" y="392.8" font-size="6.3" text-anchor="middle" fill="#000" stroke="#000" stroke-width="0.25">RAGE</text>
<line x1="506.00" y1="378.20" x2="510.70" y2="388.90" stroke="#222" stroke-width="0.55" />
<line x1="528.20" y1="410.90" x2="529.50" y2="401.80" stroke="#222" stroke-width="0.55" />
<line x1="548.30" y1="405.40" x2="553.30" y2="414.00" stroke="#222" stroke-width="0.55" />
<line x1="537.40" y1="427.30" x2="539.30" y2="410.40" stroke="#222" stroke-width="0.55" />
<text x="459.80" y="6.00" font-size="7.9" text-anchor="start" fill="#000" font-weight="bold">e</text>
<path d="M490.7,86.7 L490.3,87.2 L489.9,87.7 L489.6,88.2 L489.2,88.7 L488.8,89.3 L488.5,89.8 L488.2,90.4 L487.8,90.9 L487.5,91.5 L487.3,92.1 L487.0,92.7 L486.7,93.3 L486.5,94.0 L486.2,94.6 L486.0,95.3 L485.8,95.9 L485.6,96.6 L485.4,97.3 L485.3,97.9 L485.1,98.6 L485.0,99.3 L484.9,100.1 L484.8,100.8 L484.7,101.5 L484.6,102.2 L484.5,103.0 L484.5,103.7 L484.4,104.5 L484.4,105.3 L484.4,106.1 L484.4,106.8 L484.4,107.6 L484.5,108.4 L484.5,109.2 L484.6,110.1 L484.7,110.9 L484.8,111.7 L484.9,112.5 L485.0,113.4 L485.1,114.2 L485.3,115.1 L485.4,115.9 L485.6,116.8 L485.8,117.6 L486.0,118.5 L486.2,119.4 L486.5,120.2 L486.7,121.1 L487.0,122.0 L487.2,122.9 L487.5,123.8 L487.8,124.6 L488.1,125.5 L488.5,126.4 L488.8,127.3 L489.2,128.2 L489.5,129.1 L489.9,130.0 L490.3,130.9 L490.7,131.8 L491.1,132.8 L491.5,133.7 L492.0,134.6 L492.4,135.5 L492.9,136.4 L493.4,137.3 L493.9,138.2 L494.4,139.1 L494.9,140.0 L495.4,140.9 L496.0,141.8 L496.5,142.7 L497.1,143.6 L497.6,144.5 L498.2,145.4 L498.8,146.3 L499.4,147.2 L500.0,148.1 L500.7,149.0 L501.3,149.8 L502.0,150.7 L502.6,151.6 L503.3,152.5 L504.0,153.3 L504.6,154.2 L505.3,155.0 L506.0,155.9 L506.7,156.7 L507.5,157.6 L508.2,158.4 L508.9,159.2 L509.7,160.1 L510.4,160.9 L511.2,161.7 L512.0,162.5 L512.7,163.3 L513.5,164.1 L514.3,164.9 L515.1,165.7 L515.9,166.4 L516.7,167.2 L517.6,167.9 L518.4,168.7 L519.2,169.4 L520.0,170.2 L520.9,170.9 L521.7,171.6 L522.6,172.3 L523.4,173.0 L524.3,173.7 L525.2,174.4 L526.0,175.0 L526.9,175.7 L527.8,176.3 L528.7,177.0 L529.5,177.6 L530.4,178.2 L531.3,178.8 L532.2,179.4 L533.1,180.0 L534.0,180.6 L534.9,181.1 L535.8,181.7 L536.7,182.2 L537.6,182.7 L538.5,183.2 L539.4,183.7 L540.3,184.2 L541.2,184.7 L542.1,185.2 L543.1,185.6 L544.0,186.1 L544.9,186.5 L545.8,186.9 L546.7,187.3 L547.6,187.7 L548.5,188.1 L549.4,188.5 L550.3,188.8 L551.2,189.2 L552.1,189.5 L553.0,189.8 L553.9,190.1 L554.8,190.4 L555.6,190.7 L556.5,190.9 L557.4,191.2 L558.3,191.4 L559.1,191.6 L560.0,191.8 L560.9,192.0 L561.7,192.2 L562.6,192.4 L563.4,192.5 L564.3,192.6 L565.1,192.8 L565.9,192.9 L566.8,193.0 L567.6,193.0 L568.4,193.1 L569.2,193.1 L570.0,193.2 L570.8,193.2 L571.6,193.2 L572.3,193.2 L572.6,193.2 L572.1,193.2 L571.3,193.1 L570.6,193.1 L569.8,193.0 L569.1,192.9 L568.3,192.9 L567.6,192.7 L566.9,192.6 L566.2,192.5 L565.5,192.3 L564.8,192.2 L564.2,192.0 L563.5,191.8 L562.8,191.6 L562.2,191.4 L561.5,191.1 L560.9,190.9 L560.3,190.6 L559.7,190.4 L559.1,190.1 L558.5,189.8 L557.9,189.5 L557.4,189.1 L556.8,188.8 L556.3,188.4 L555.8,188.1 L555.2,187.7 L554.7,187.3 L554.2,186.9 L553.8,186.5 L553.3,186.0 L552.8,185.6 L552.4,185.1 L552.0,184.7 L551.5,184.2 L551.1,183.7 L550.7,183.2 L550.4,182.7 L550.0,182.1 L549.6,181.6 L549.3,181.1 L549.0,180.5 L548.7,179.9 L548.4,179.3 L548.1,178.7 L547.8,178.1 L547.5,177.5 L547.3,176.9 L547.1,176.3 L546.8,175.6 L546.6,175.0 L546.4,174.3 L546.3,173.6 L546.1,172.9 L545.9,172.2 L545.8,171.5 L545.7,170.8 L545.6,170.1 L545.5,169.4 L545.4,168.6 L545.3,167.9 L545.3,167.1 L545.3,166.4 L544.9,166.5 L544.2,166.6 L543.5,166.7 L542.8,166.8 L542.2,166.9 L541.5,167.0 L540.9,167.0 L540.2,167.1 L539.6,167.1 L539.0,167.1 L538.3,167.1 L537.7,167.1 L537.1,167.1 L536.5,167.1 L536.0,167.0 L535.4,166.9 L534.8,166.9 L534.3,166.8 L533.7,166.7 L533.2,166.6 L532.7,166.5 L532.1,166.3 L531.6,166.2 L531.1,166.0 L530.6,165.8 L530.2,165.7 L529.7,165.5 L529.2,165.2 L528.8,165.0 L528.4,164.8 L527.9,164.5 L527.5,164.3 L527.1,164.0 L526.7,163.7 L526.4,163.4 L526.0,163.1 L525.6,162.8 L525.3,162.5 L525.0,162.1 L524.6,161.8 L524.3,161.4 L524.0,161.0 L523.8,160.6 L523.5,160.2 L523.2,159.8 L523.0,159.4 L522.7,159.0 L522.5,158.5 L522.3,158.1 L522.1,157.6 L521.9,157.1 L521.8,156.6 L521.6,156.1 L521.4,155.6 L521.3,155.1 L521.2,154.6 L521.1,154.0 L521.0,153.5 L520.9,152.9 L520.8,152.4 L520.8,151.8 L520.7,151.2 L520.7,150.6 L520.7,150.0 L520.6,149.4 L520.6,148.8 L520.7,148.2 L520.7,147.5 L520.7,146.9 L520.8,146.3 L520.9,145.6 L520.9,144.9 L521.0,144.3 L521.1,143.6 L521.3,142.9 L521.4,142.2 L521.5,141.5 L521.7,140.8 L521.9,140.1 L522.0,139.4 L522.2,138.6 L522.5,137.9 L522.7,137.2 L522.9,136.4 L523.1,135.7 L523.4,134.9 L523.7,134.2 L524.0,133.4 L524.2,132.6 L524.5,131.9 L524.9,131.1 L525.2,130.3 L525.5,129.5 L525.9,128.7 L526.2,128.0 L526.6,127.2 L527.0,126.4 L527.4,125.6 L527.8,124.8 L528.2,124.0 L528.7,123.2 L529.1,122.4 L529.6,121.5 L530.0,120.7 L530.5,119.9 L531.0,119.1 L531.5,118.3 L532.0,117.5 L532.5,116.7 L533.0,115.8 L533.3,115.4 L532.9,115.0 L532.4,114.1 L531.8,113.3 L531.2,112.4 L530.7,111.5 L530.1,110.7 L529.6,109.8 L529.1,109.0 L528.6,108.1 L528.1,107.3 L527.6,106.4 L527.1,105.6 L526.6,104.7 L526.2,103.9 L525.7,103.1 L525.3,102.2 L524.9,101.4 L524.5,100.6 L524.1,99.7 L523.7,98.9 L523.3,98.1 L522.9,97.3 L522.6,96.5 L522.2,95.7 L521.9,94.9 L521.6,94.1 L521.3,93.3 L521.0,92.5 L520.8,91.7 L520.5,91.0 L520.2,90.2 L520.0,89.5 L519.8,88.7 L519.6,88.0 L519.4,87.2 L519.2,86.5 L519.0,85.8 L518.9,85.0 L518.7,84.3 L518.6,83.6 L518.5,82.9 L518.4,82.2 L518.3,81.6 L518.2,80.9 L518.1,80.2 L518.1,79.6 L518.1,78.9 L518.0,78.3 L518.0,77.9 L517.6,77.9 L516.8,77.8 L516.0,77.8 L515.2,77.7 L514.4,77.7 L513.6,77.7 L512.8,77.7 L512.0,77.7 L511.3,77.7 L510.5,77.7 L509.8,77.8 L509.0,77.8 L508.3,77.9 L507.5,78.0 L506.8,78.1 L506.1,78.2 L505.4,78.4 L504.7,78.5 L504.0,78.7 L503.3,78.9 L502.7,79.1 L502.0,79.3 L501.4,79.5 L500.7,79.7 L500.1,80.0 L499.5,80.2 L498.9,80.5 L498.3,80.8 L497.7,81.1 L497.1,81.4 L496.6,81.7 L496.0,82.1 L495.5,82.4 L494.9,82.8 L494.4,83.2 L493.9,83.6 L493.4,84.0 L493.0,84.4 L492.5,84.8 L492.0,85.3 L491.6,85.7 L491.2,86.2 L490.7,86.7Z" fill="#d4d8ea" stroke="none"/>
<path d="M521.5,66.1 L521.2,66.4 L520.9,66.8 L520.6,67.2 L520.4,67.7 L520.1,68.1 L519.9,68.5 L519.7,69.0 L519.5,69.4 L519.3,69.9 L519.1,70.4 L519.0,70.9 L518.8,71.4 L518.7,71.9 L518.5,72.4 L518.4,73.0 L518.3,73.5 L518.2,74.1 L518.2,74.7 L518.1,75.2 L518.1,75.8 L518.0,76.4 L518.0,77.0 L518.0,77.7 L518.0,77.9 L518.5,78.0 L519.3,78.1 L520.1,78.2 L521.0,78.4 L521.8,78.5 L522.7,78.7 L523.5,78.8 L524.4,79.0 L525.2,79.2 L526.1,79.5 L527.0,79.7 L527.9,79.9 L528.8,80.2 L529.6,80.5 L530.5,80.8 L531.4,81.1 L532.3,81.4 L533.2,81.7 L534.1,82.0 L535.0,82.4 L535.9,82.8 L536.8,83.1 L537.7,83.5 L538.6,83.9 L539.5,84.3 L540.4,84.8 L541.3,85.2 L542.2,85.7 L543.1,86.1 L544.1,86.6 L545.0,87.1 L545.9,87.6 L546.8,88.1 L547.7,88.7 L548.6,89.2 L549.5,89.7 L550.4,90.3 L551.3,90.9 L552.2,91.5 L552.9,91.9 L553.4,91.5 L554.1,90.7 L554.9,90.0 L555.6,89.3 L556.4,88.6 L557.2,87.9 L558.0,87.2 L558.8,86.5 L559.6,85.8 L560.3,85.2 L561.1,84.5 L561.9,83.9 L562.7,83.2 L563.5,82.6 L564.3,81.9 L565.2,81.3 L566.0,80.7 L566.8,80.1 L567.6,79.5 L568.4,78.9 L569.2,78.3 L570.0,77.8 L570.8,77.2 L571.7,76.6 L572.5,76.1 L572.9,75.8 L572.4,75.5 L571.6,74.9 L570.7,74.3 L569.8,73.8 L569.0,73.2 L568.1,72.7 L567.3,72.2 L566.4,71.6 L565.6,71.1 L564.7,70.6 L563.9,70.1 L563.0,69.6 L562.2,69.2 L561.3,68.7 L560.5,68.3 L559.7,67.8 L558.8,67.4 L558.0,67.0 L557.2,66.6 L556.4,66.2 L555.6,65.9 L554.7,65.5 L553.9,65.1 L553.1,64.8 L552.3,64.5 L551.5,64.2 L550.7,63.9 L550.0,63.6 L549.2,63.3 L548.4,63.1 L547.7,62.8 L546.9,62.6 L546.1,62.3 L545.4,62.1 L544.7,61.9 L543.9,61.8 L543.2,61.6 L542.5,61.4 L541.8,61.3 L541.1,61.2 L540.4,61.0 L539.7,60.9 L539.0,60.8 L538.3,60.8 L537.7,60.7 L537.0,60.7 L536.4,60.6 L535.7,60.6 L535.1,60.6 L534.5,60.6 L533.9,60.6 L533.3,60.6 L532.7,60.7 L532.1,60.7 L531.5,60.8 L531.0,60.9 L530.4,61.0 L529.9,61.1 L529.4,61.2 L528.8,61.4 L528.3,61.5 L527.8,61.7 L527.4,61.9 L526.9,62.0 L526.4,62.2 L526.0,62.5 L525.5,62.7 L525.1,62.9 L524.7,63.2 L524.3,63.5 L523.9,63.7 L523.5,64.0 L523.1,64.3 L522.8,64.7 L522.4,65.0 L522.1,65.3 L521.8,65.7 L521.5,66.1Z" fill="#fbfbfd" stroke="none"/>
<path d="M618.8,66.9 L618.5,66.6 L618.1,66.3 L617.7,66.0 L617.3,65.8 L616.8,65.5 L616.4,65.3 L616.0,65.1 L615.5,64.9 L615.0,64.7 L614.6,64.5 L614.1,64.3 L613.6,64.1 L613.1,64.0 L612.5,63.9 L612.0,63.7 L611.5,63.6 L610.9,63.5 L610.4,63.4 L609.8,63.4 L609.2,63.3 L608.7,63.3 L608.1,63.2 L607.5,63.2 L606.9,63.2 L606.2,63.2 L605.6,63.2 L605.0,63.3 L604.3,63.3 L603.7,63.4 L603.0,63.4 L602.4,63.5 L601.7,63.6 L601.0,63.7 L600.3,63.8 L599.6,64.0 L598.9,64.1 L598.2,64.3 L597.5,64.4 L596.8,64.6 L596.1,64.8 L595.3,65.0 L594.6,65.2 L593.9,65.5 L593.1,65.7 L592.4,66.0 L591.6,66.2 L590.8,66.5 L590.1,66.8 L589.3,67.1 L588.5,67.4 L587.8,67.8 L587.0,68.1 L586.2,68.4 L585.4,68.8 L584.6,69.2 L583.8,69.6 L583.0,70.0 L582.2,70.4 L581.4,70.8 L580.6,71.2 L579.8,71.7 L579.0,72.1 L578.2,72.6 L577.4,73.1 L576.5,73.5 L575.7,74.0 L574.9,74.5 L574.1,75.0 L573.3,75.6 L572.9,75.8 L573.3,76.1 L574.1,76.7 L575.0,77.3 L575.8,77.9 L576.7,78.6 L577.5,79.2 L578.4,79.9 L579.3,80.5 L580.1,81.2 L580.9,81.9 L581.8,82.5 L582.6,83.2 L583.5,83.9 L584.3,84.6 L585.2,85.4 L586.0,86.1 L586.8,86.8 L587.6,87.5 L588.5,88.3 L589.3,89.0 L590.1,89.8 L590.9,90.6 L591.7,91.3 L592.3,91.9 L593.0,91.5 L593.9,90.9 L594.8,90.3 L595.7,89.7 L596.6,89.2 L597.5,88.7 L598.4,88.1 L599.3,87.6 L600.2,87.1 L601.1,86.6 L602.1,86.1 L603.0,85.7 L603.9,85.2 L604.8,84.8 L605.7,84.3 L606.6,83.9 L607.5,83.5 L608.4,83.1 L609.3,82.8 L610.2,82.4 L611.1,82.0 L612.0,81.7 L612.9,81.4 L613.8,81.1 L614.7,80.8 L615.6,80.5 L616.4,80.2 L617.3,79.9 L618.2,79.7 L619.1,79.5 L620.0,79.2 L620.8,79.0 L621.7,78.8 L622.5,78.7 L623.4,78.5 L624.2,78.4 L624.4,78.3 L624.4,77.9 L624.3,77.4 L624.2,76.8 L624.1,76.3 L624.0,75.7 L623.9,75.2 L623.8,74.7 L623.6,74.2 L623.4,73.7 L623.3,73.2 L623.1,72.7 L622.9,72.3 L622.7,71.8 L622.5,71.4 L622.2,70.9 L622.0,70.5 L621.7,70.1 L621.4,69.7 L621.2,69.3 L620.9,68.9 L620.6,68.6 L620.2,68.2 L619.9,67.9 L619.6,67.5 L619.2,67.2 L618.8,66.9Z" fill="#ffffff" stroke="none"/>
<path d="M651.8,84.0 L651.3,83.6 L650.8,83.2 L650.3,82.8 L649.7,82.4 L649.2,82.1 L648.6,81.7 L648.1,81.4 L647.5,81.1 L646.9,80.8 L646.3,80.5 L645.7,80.2 L645.1,80.0 L644.5,79.7 L643.8,79.5 L643.2,79.3 L642.5,79.1 L641.9,78.9 L641.2,78.7 L640.5,78.5 L639.8,78.4 L639.1,78.2 L638.4,78.1 L637.7,78.0 L636.9,77.9 L636.2,77.8 L635.4,77.8 L634.7,77.7 L633.9,77.7 L633.2,77.7 L632.4,77.7 L631.6,77.7 L630.8,77.7 L630.0,77.7 L629.2,77.8 L628.4,77.8 L627.6,77.9 L626.7,78.0 L625.9,78.1 L625.1,78.2 L624.4,78.3 L624.4,78.5 L624.5,79.1 L624.5,79.7 L624.5,80.3 L624.6,80.9 L624.6,81.5 L624.5,82.1 L624.5,82.8 L624.5,83.4 L624.4,84.1 L624.3,84.7 L624.3,85.4 L624.2,86.1 L624.1,86.7 L623.9,87.4 L623.8,88.1 L623.7,88.8 L623.5,89.5 L623.3,90.2 L623.2,91.0 L623.0,91.7 L622.7,92.4 L622.5,93.2 L622.3,93.9 L622.1,94.6 L621.8,95.4 L621.5,96.2 L621.2,96.9 L621.0,97.7 L620.7,98.5 L620.3,99.2 L620.0,100.0 L619.7,100.8 L619.3,101.6 L619.0,102.4 L618.6,103.2 L618.2,104.0 L617.8,104.8 L617.4,105.6 L617.0,106.4 L616.5,107.2 L616.1,108.0 L615.6,108.8 L615.2,109.6 L614.7,110.4 L614.2,111.2 L613.7,112.0 L613.2,112.8 L612.7,113.7 L612.2,114.5 L611.9,114.9 L612.3,115.4 L612.8,116.2 L613.4,117.1 L614.0,117.9 L614.5,118.8 L615.1,119.6 L615.6,120.5 L616.1,121.3 L616.6,122.2 L617.1,123.0 L617.6,123.9 L618.1,124.7 L618.6,125.6 L619.0,126.4 L619.5,127.3 L619.9,128.1 L620.3,128.9 L620.7,129.7 L621.1,130.6 L621.5,131.4 L621.9,132.2 L622.3,133.0 L622.6,133.8 L623.0,134.6 L623.3,135.4 L623.6,136.2 L623.9,137.0 L624.2,137.8 L624.4,138.6 L624.7,139.3 L625.0,140.1 L625.2,140.9 L625.4,141.6 L625.6,142.4 L625.8,143.1 L626.0,143.8 L626.2,144.6 L626.3,145.3 L626.5,146.0 L626.6,146.7 L626.7,147.4 L626.8,148.1 L626.9,148.8 L627.0,149.4 L627.1,150.1 L627.1,150.8 L627.1,151.4 L627.2,152.0 L627.2,152.7 L627.2,153.3 L627.2,153.9 L627.1,154.5 L627.1,155.1 L627.0,155.7 L627.0,156.2 L626.9,156.8 L626.8,157.3 L626.7,157.9 L626.5,158.4 L626.4,158.9 L626.2,159.4 L626.1,159.9 L625.9,160.4 L625.7,160.9 L625.5,161.3 L625.3,161.8 L625.1,162.2 L624.8,162.7 L624.6,163.1 L624.3,163.5 L624.0,163.9 L623.7,164.3 L623.4,164.6 L623.1,165.0 L622.8,165.3 L622.4,165.7 L622.1,166.0 L621.7,166.3 L621.3,166.6 L620.9,166.9 L620.5,167.1 L620.1,167.4 L619.7,167.6 L619.2,167.9 L618.8,168.1 L618.3,168.3 L617.8,168.5 L617.4,168.6 L616.9,168.8 L616.4,169.0 L615.8,169.1 L615.3,169.2 L614.8,169.3 L614.2,169.4 L613.7,169.5 L613.1,169.6 L612.5,169.6 L611.9,169.7 L611.3,169.7 L610.7,169.7 L610.1,169.7 L609.5,169.7 L608.8,169.7 L608.2,169.7 L607.5,169.6 L606.9,169.6 L606.2,169.5 L605.5,169.4 L604.8,169.3 L604.1,169.2 L603.4,169.0 L602.7,168.9 L602.0,168.7 L601.3,168.6 L600.5,168.4 L599.8,168.2 L599.8,168.6 L599.7,169.4 L599.6,170.1 L599.5,170.8 L599.4,171.5 L599.3,172.2 L599.1,172.9 L598.9,173.6 L598.8,174.3 L598.6,175.0 L598.4,175.6 L598.1,176.3 L597.9,176.9 L597.7,177.5 L597.4,178.1 L597.1,178.7 L596.8,179.3 L596.5,179.9 L596.2,180.5 L595.9,181.1 L595.6,181.6 L595.2,182.1 L594.8,182.7 L594.5,183.2 L594.1,183.7 L593.7,184.2 L593.2,184.7 L592.8,185.1 L592.4,185.6 L591.9,186.0 L591.4,186.5 L591.0,186.9 L590.5,187.3 L590.0,187.7 L589.4,188.1 L588.9,188.4 L588.4,188.8 L587.8,189.1 L587.3,189.5 L586.7,189.8 L586.1,190.1 L585.5,190.4 L584.9,190.6 L584.3,190.9 L583.7,191.1 L583.0,191.4 L582.4,191.6 L581.7,191.8 L581.0,192.0 L580.4,192.2 L579.7,192.3 L579.0,192.5 L578.3,192.6 L577.6,192.7 L576.9,192.9 L576.1,192.9 L575.4,193.0 L574.6,193.1 L573.9,193.1 L573.1,193.2 L572.6,193.2 L572.9,193.2 L573.6,193.2 L574.4,193.2 L575.2,193.2 L576.0,193.1 L576.8,193.1 L577.6,193.0 L578.4,193.0 L579.3,192.9 L580.1,192.8 L580.9,192.6 L581.8,192.5 L582.6,192.4 L583.5,192.2 L584.3,192.0 L585.2,191.8 L586.1,191.6 L586.9,191.4 L587.8,191.2 L588.7,190.9 L589.6,190.7 L590.4,190.4 L591.3,190.1 L592.2,189.8 L593.1,189.5 L594.0,189.2 L594.9,188.8 L595.8,188.5 L596.7,188.1 L597.6,187.7 L598.5,187.3 L599.4,186.9 L600.3,186.5 L601.2,186.1 L602.1,185.6 L603.1,185.2 L604.0,184.7 L604.9,184.2 L605.8,183.7 L606.7,183.2 L607.6,182.7 L608.5,182.2 L609.4,181.7 L610.3,181.1 L611.2,180.6 L612.1,180.0 L613.0,179.4 L613.9,178.8 L614.8,178.2 L615.7,177.6 L616.5,177.0 L617.4,176.3 L618.3,175.7 L619.2,175.0 L620.0,174.4 L620.9,173.7 L621.8,173.0 L622.6,172.3 L623.5,171.6 L624.3,170.9 L625.2,170.2 L626.0,169.4 L626.8,168.7 L627.6,167.9 L628.5,167.2 L629.3,166.4 L630.1,165.7 L630.9,164.9 L631.7,164.1 L632.5,163.3 L633.2,162.5 L634.0,161.7 L634.8,160.9 L635.5,160.1 L636.3,159.2 L637.0,158.4 L637.7,157.6 L638.5,156.7 L639.2,155.9 L639.9,155.0 L640.6,154.2 L641.2,153.3 L641.9,152.5 L642.6,151.6 L643.2,150.7 L643.9,149.8 L644.5,149.0 L645.2,148.1 L645.8,147.2 L646.4,146.3 L647.0,145.4 L647.6,144.5 L648.1,143.6 L648.7,142.7 L649.2,141.8 L649.8,140.9 L650.3,140.0 L650.8,139.1 L651.3,138.2 L651.8,137.3 L652.3,136.4 L652.8,135.5 L653.2,134.6 L653.7,133.7 L654.1,132.8 L654.5,131.8 L654.9,130.9 L655.3,130.0 L655.7,129.1 L656.0,128.2 L656.4,127.3 L656.7,126.4 L657.1,125.5 L657.4,124.6 L657.7,123.8 L658.0,122.9 L658.2,122.0 L658.5,121.1 L658.7,120.2 L659.0,119.4 L659.2,118.5 L659.4,117.6 L659.6,116.8 L659.8,115.9 L659.9,115.1 L660.1,114.2 L660.2,113.4 L660.3,112.5 L660.4,111.7 L660.5,110.9 L660.6,110.1 L660.7,109.2 L660.7,108.4 L660.8,107.6 L660.8,106.8 L660.8,106.1 L660.8,105.3 L660.8,104.5 L660.7,103.7 L660.7,103.0 L660.6,102.2 L660.5,101.5 L660.4,100.8 L660.3,100.1 L660.2,99.3 L660.1,98.6 L659.9,97.9 L659.8,97.3 L659.6,96.6 L659.4,95.9 L659.2,95.3 L659.0,94.6 L658.7,94.0 L658.5,93.3 L658.2,92.7 L657.9,92.1 L657.7,91.5 L657.4,90.9 L657.0,90.4 L656.7,89.8 L656.4,89.3 L656.0,88.7 L655.6,88.2 L655.3,87.7 L654.9,87.2 L654.5,86.7 L654.0,86.2 L653.6,85.7 L653.2,85.3 L652.7,84.8 L652.2,84.4 L651.8,84.0Z" fill="#dcdfee" stroke="none"/>
<path d="M551.3,90.9 L550.4,90.3 L549.5,89.7 L548.6,89.2 L547.7,88.7 L546.8,88.1 L545.9,87.6 L545.0,87.1 L544.1,86.6 L543.1,86.1 L542.2,85.7 L541.3,85.2 L540.4,84.8 L539.5,84.3 L538.6,83.9 L537.7,83.5 L536.8,83.1 L535.9,82.8 L535.0,82.4 L534.1,82.0 L533.2,81.7 L532.3,81.4 L531.4,81.1 L530.5,80.8 L529.6,80.5 L528.8,80.2 L527.9,79.9 L527.0,79.7 L526.1,79.5 L525.2,79.2 L524.4,79.0 L523.5,78.8 L522.7,78.7 L521.8,78.5 L521.0,78.4 L520.1,78.2 L519.3,78.1 L518.5,78.0 L518.0,77.9 L518.0,78.3 L518.1,78.9 L518.1,79.6 L518.1,80.2 L518.2,80.9 L518.3,81.6 L518.4,82.2 L518.5,82.9 L518.6,83.6 L518.7,84.3 L518.9,85.0 L519.0,85.8 L519.2,86.5 L519.4,87.2 L519.6,88.0 L519.8,88.7 L520.0,89.5 L520.2,90.2 L520.5,91.0 L520.8,91.7 L521.0,92.5 L521.3,93.3 L521.6,94.1 L521.9,94.9 L522.2,95.7 L522.6,96.5 L522.9,97.3 L523.3,98.1 L523.7,98.9 L524.1,99.7 L524.5,100.6 L524.9,101.4 L525.3,102.2 L525.7,103.1 L526.2,103.9 L526.6,104.7 L527.1,105.6 L527.6,106.4 L528.1,107.3 L528.6,108.1 L529.1,109.0 L529.6,109.8 L530.1,110.7 L530.7,111.5 L531.2,112.4 L531.8,113.3 L532.4,114.1 L532.9,115.0 L533.3,115.4 L533.5,115.0 L534.1,114.2 L534.6,113.4 L535.2,112.6 L535.8,111.8 L536.3,111.0 L536.9,110.1 L537.5,109.3 L538.1,108.5 L538.8,107.7 L539.4,106.9 L540.0,106.1 L540.7,105.3 L541.3,104.5 L542.0,103.7 L542.6,102.9 L543.3,102.1 L544.0,101.3 L544.7,100.5 L545.3,99.8 L546.0,99.0 L546.7,98.2 L547.5,97.4 L548.2,96.7 L548.9,95.9 L549.6,95.2 L550.4,94.4 L551.1,93.7 L551.8,92.9 L552.6,92.2 L552.9,91.9 L552.2,91.5 L551.3,90.9Z" fill="#e3e6f1" stroke="none"/>
<path d="M591.7,91.3 L590.9,90.6 L590.1,89.8 L589.3,89.0 L588.5,88.3 L587.6,87.5 L586.8,86.8 L586.0,86.1 L585.2,85.4 L584.3,84.6 L583.5,83.9 L582.6,83.2 L581.8,82.5 L580.9,81.9 L580.1,81.2 L579.3,80.5 L578.4,79.9 L577.5,79.2 L576.7,78.6 L575.8,77.9 L575.0,77.3 L574.1,76.7 L573.3,76.1 L572.9,75.8 L572.5,76.1 L571.7,76.6 L570.8,77.2 L570.0,77.8 L569.2,78.3 L568.4,78.9 L567.6,79.5 L566.8,80.1 L566.0,80.7 L565.2,81.3 L564.3,81.9 L563.5,82.6 L562.7,83.2 L561.9,83.9 L561.1,84.5 L560.3,85.2 L559.6,85.8 L558.8,86.5 L558.0,87.2 L557.2,87.9 L556.4,88.6 L555.6,89.3 L554.9,90.0 L554.1,90.7 L553.4,91.5 L552.9,91.9 L553.1,92.1 L554.0,92.7 L554.8,93.3 L555.7,93.9 L556.6,94.5 L557.5,95.2 L558.4,95.8 L559.2,96.5 L560.1,97.2 L561.0,97.9 L561.8,98.6 L562.7,99.3 L563.5,100.0 L564.3,100.7 L565.2,101.4 L566.0,102.2 L566.8,102.9 L567.7,103.7 L568.5,104.4 L569.3,105.2 L570.1,106.0 L570.9,106.8 L571.6,107.6 L572.4,108.4 L572.6,108.5 L572.8,108.4 L573.6,107.6 L574.3,106.8 L575.1,106.0 L575.9,105.2 L576.7,104.4 L577.5,103.7 L578.4,102.9 L579.2,102.2 L580.0,101.4 L580.9,100.7 L581.7,100.0 L582.5,99.3 L583.4,98.6 L584.2,97.9 L585.1,97.2 L586.0,96.5 L586.8,95.8 L587.7,95.2 L588.6,94.5 L589.5,93.9 L590.4,93.3 L591.2,92.7 L592.1,92.1 L592.3,91.9 L591.7,91.3Z" fill="#fbfbfd" stroke="none"/>
<path d="M612.2,114.5 L612.7,113.7 L613.2,112.8 L613.7,112.0 L614.2,111.2 L614.7,110.4 L615.2,109.6 L615.6,108.8 L616.1,108.0 L616.5,107.2 L617.0,106.4 L617.4,105.6 L617.8,104.8 L618.2,104.0 L618.6,103.2 L619.0,102.4 L619.3,101.6 L619.7,100.8 L620.0,100.0 L620.3,99.2 L620.7,98.5 L621.0,97.7 L621.2,96.9 L621.5,96.2 L621.8,95.4 L622.1,94.6 L622.3,93.9 L622.5,93.2 L622.7,92.4 L623.0,91.7 L623.2,91.0 L623.3,90.2 L623.5,89.5 L623.7,88.8 L623.8,88.1 L623.9,87.4 L624.1,86.7 L624.2,86.1 L624.3,85.4 L624.3,84.7 L624.4,84.1 L624.5,83.4 L624.5,82.8 L624.5,82.1 L624.6,81.5 L624.6,80.9 L624.5,80.3 L624.5,79.7 L624.5,79.1 L624.4,78.5 L624.4,78.3 L624.2,78.4 L623.4,78.5 L622.5,78.7 L621.7,78.8 L620.8,79.0 L620.0,79.2 L619.1,79.5 L618.2,79.7 L617.3,79.9 L616.4,80.2 L615.6,80.5 L614.7,80.8 L613.8,81.1 L612.9,81.4 L612.0,81.7 L611.1,82.0 L610.2,82.4 L609.3,82.8 L608.4,83.1 L607.5,83.5 L606.6,83.9 L605.7,84.3 L604.8,84.8 L603.9,85.2 L603.0,85.7 L602.1,86.1 L601.1,86.6 L600.2,87.1 L599.3,87.6 L598.4,88.1 L597.5,88.7 L596.6,89.2 L595.7,89.7 L594.8,90.3 L593.9,90.9 L593.0,91.5 L592.3,91.9 L592.5,92.1 L593.3,92.9 L594.1,93.7 L594.9,94.5 L595.7,95.2 L596.4,96.0 L597.2,96.9 L598.0,97.7 L598.7,98.5 L599.5,99.3 L600.2,100.1 L601.0,100.9 L601.7,101.8 L602.4,102.6 L603.1,103.4 L603.8,104.3 L604.5,105.1 L605.2,106.0 L605.9,106.8 L606.6,107.7 L607.2,108.5 L607.9,109.4 L608.5,110.2 L609.2,111.1 L609.8,111.9 L610.4,112.8 L611.1,113.6 L611.7,114.5 L611.9,114.9 L612.2,114.5Z" fill="#ffffff" stroke="none"/>
<path d="M572.4,108.4 L571.6,107.6 L570.9,106.8 L570.1,106.0 L569.3,105.2 L568.5,104.4 L567.7,103.7 L566.8,102.9 L566.0,102.2 L565.2,101.4 L564.3,100.7 L563.5,100.0 L562.7,99.3 L561.8,98.6 L561.0,97.9 L560.1,97.2 L559.2,96.5 L558.4,95.8 L557.5,95.2 L556.6,94.5 L555.7,93.9 L554.8,93.3 L554.0,92.7 L553.1,92.1 L552.9,91.9 L552.6,92.2 L551.8,92.9 L551.1,93.7 L550.4,94.4 L549.6,95.2 L548.9,95.9 L548.2,96.7 L547.5,97.4 L546.7,98.2 L546.0,99.0 L545.3,99.8 L544.7,100.5 L544.0,101.3 L543.3,102.1 L542.6,102.9 L542.0,103.7 L541.3,104.5 L540.7,105.3 L540.0,106.1 L539.4,106.9 L538.8,107.7 L538.1,108.5 L537.5,109.3 L536.9,110.1 L536.3,111.0 L535.8,111.8 L535.2,112.6 L534.6,113.4 L534.1,114.2 L533.5,115.0 L533.3,115.4 L533.5,115.8 L534.1,116.7 L534.8,117.5 L535.4,118.4 L536.0,119.3 L536.7,120.1 L537.3,121.0 L538.0,121.8 L538.6,122.7 L539.3,123.5 L540.0,124.4 L540.7,125.2 L541.4,126.0 L542.1,126.9 L542.8,127.7 L543.5,128.5 L544.2,129.4 L545.0,130.2 L545.7,131.0 L546.5,131.8 L547.2,132.7 L548.0,133.5 L548.8,134.3 L549.5,135.1 L550.3,135.9 L551.1,136.7 L551.9,137.4 L552.1,137.7 L552.4,137.2 L552.8,136.3 L553.2,135.4 L553.7,134.5 L554.2,133.6 L554.7,132.7 L555.2,131.8 L555.7,130.9 L556.2,129.9 L556.8,129.0 L557.3,128.1 L557.9,127.2 L558.5,126.3 L559.0,125.5 L559.6,124.6 L560.2,123.7 L560.9,122.8 L561.5,121.9 L562.1,121.0 L562.8,120.1 L563.4,119.3 L564.1,118.4 L564.8,117.5 L565.4,116.7 L566.1,115.8 L566.8,115.0 L567.6,114.1 L568.3,113.3 L569.0,112.4 L569.7,111.6 L570.5,110.8 L571.2,110.0 L572.0,109.2 L572.6,108.5 L572.4,108.4Z" fill="#ebedf5" stroke="none"/>
<path d="M593.4,137.4 L594.1,136.7 L594.8,135.9 L595.6,135.2 L596.3,134.4 L597.0,133.6 L597.7,132.9 L598.5,132.1 L599.2,131.3 L599.9,130.6 L600.5,129.8 L601.2,129.0 L601.9,128.2 L602.6,127.4 L603.2,126.6 L603.9,125.8 L604.5,125.0 L605.2,124.2 L605.8,123.4 L606.4,122.6 L607.1,121.8 L607.7,121.0 L608.3,120.2 L608.9,119.4 L609.4,118.6 L610.0,117.7 L610.6,116.9 L611.1,116.1 L611.7,115.3 L611.9,114.9 L611.7,114.5 L611.1,113.6 L610.4,112.8 L609.8,111.9 L609.2,111.1 L608.5,110.2 L607.9,109.4 L607.2,108.5 L606.6,107.7 L605.9,106.8 L605.2,106.0 L604.5,105.1 L603.8,104.3 L603.1,103.4 L602.4,102.6 L601.7,101.8 L601.0,100.9 L600.2,100.1 L599.5,99.3 L598.7,98.5 L598.0,97.7 L597.2,96.9 L596.4,96.0 L595.7,95.2 L594.9,94.5 L594.1,93.7 L593.3,92.9 L592.5,92.1 L592.3,91.9 L592.1,92.1 L591.2,92.7 L590.4,93.3 L589.5,93.9 L588.6,94.5 L587.7,95.2 L586.8,95.8 L586.0,96.5 L585.1,97.2 L584.2,97.9 L583.4,98.6 L582.5,99.3 L581.7,100.0 L580.9,100.7 L580.0,101.4 L579.2,102.2 L578.4,102.9 L577.5,103.7 L576.7,104.4 L575.9,105.2 L575.1,106.0 L574.3,106.8 L573.6,107.6 L572.8,108.4 L572.6,108.5 L573.2,109.2 L574.0,110.0 L574.7,110.8 L575.5,111.6 L576.2,112.4 L576.9,113.3 L577.6,114.1 L578.4,115.0 L579.1,115.8 L579.8,116.7 L580.4,117.5 L581.1,118.4 L581.8,119.3 L582.4,120.1 L583.1,121.0 L583.7,121.9 L584.3,122.8 L585.0,123.7 L585.6,124.6 L586.2,125.5 L586.7,126.3 L587.3,127.2 L587.9,128.1 L588.4,129.0 L589.0,129.9 L589.5,130.9 L590.0,131.8 L590.5,132.7 L591.0,133.6 L591.5,134.5 L592.0,135.4 L592.4,136.3 L592.8,137.2 L593.1,137.7 L593.4,137.4Z" fill="#f7f8fb" stroke="none"/>
<path d="M532.5,116.7 L532.0,117.5 L531.5,118.3 L531.0,119.1 L530.5,119.9 L530.0,120.7 L529.6,121.5 L529.1,122.4 L528.7,123.2 L528.2,124.0 L527.8,124.8 L527.4,125.6 L527.0,126.4 L526.6,127.2 L526.2,128.0 L525.9,128.7 L525.5,129.5 L525.2,130.3 L524.9,131.1 L524.5,131.9 L524.2,132.6 L524.0,133.4 L523.7,134.2 L523.4,134.9 L523.1,135.7 L522.9,136.4 L522.7,137.2 L522.5,137.9 L522.2,138.6 L522.0,139.4 L521.9,140.1 L521.7,140.8 L521.5,141.5 L521.4,142.2 L521.3,142.9 L521.1,143.6 L521.0,144.3 L520.9,144.9 L520.9,145.6 L520.8,146.3 L520.7,146.9 L520.7,147.5 L520.7,148.2 L520.6,148.8 L520.6,149.4 L520.7,150.0 L520.7,150.6 L520.7,151.2 L520.8,151.8 L520.8,152.4 L520.9,152.9 L521.0,153.5 L521.1,154.0 L521.2,154.6 L521.3,155.1 L521.4,155.6 L521.6,156.1 L521.8,156.6 L521.9,157.1 L522.1,157.6 L522.3,158.1 L522.5,158.5 L522.7,159.0 L523.0,159.4 L523.2,159.8 L523.5,160.2 L523.8,160.6 L524.0,161.0 L524.3,161.4 L524.6,161.8 L525.0,162.1 L525.3,162.5 L525.6,162.8 L526.0,163.1 L526.4,163.4 L526.7,163.7 L527.1,164.0 L527.5,164.3 L527.9,164.5 L528.4,164.8 L528.8,165.0 L529.2,165.2 L529.7,165.5 L530.2,165.7 L530.6,165.8 L531.1,166.0 L531.6,166.2 L532.1,166.3 L532.7,166.5 L533.2,166.6 L533.7,166.7 L534.3,166.8 L534.8,166.9 L535.4,166.9 L536.0,167.0 L536.5,167.1 L537.1,167.1 L537.7,167.1 L538.3,167.1 L539.0,167.1 L539.6,167.1 L540.2,167.1 L540.9,167.0 L541.5,167.0 L542.2,166.9 L542.8,166.8 L543.5,166.7 L544.2,166.6 L544.9,166.5 L545.3,166.4 L545.3,166.4 L545.2,165.6 L545.2,164.8 L545.2,164.0 L545.3,163.2 L545.3,162.4 L545.3,161.6 L545.4,160.8 L545.5,160.0 L545.6,159.2 L545.7,158.3 L545.8,157.5 L545.9,156.7 L546.1,155.8 L546.2,155.0 L546.4,154.1 L546.6,153.2 L546.8,152.4 L547.0,151.5 L547.3,150.6 L547.5,149.8 L547.8,148.9 L548.0,148.0 L548.3,147.1 L548.6,146.2 L548.9,145.3 L549.3,144.4 L549.6,143.5 L550.0,142.6 L550.3,141.7 L550.7,140.8 L551.1,139.9 L551.5,139.0 L551.9,138.1 L552.1,137.7 L551.9,137.4 L551.1,136.7 L550.3,135.9 L549.5,135.1 L548.8,134.3 L548.0,133.5 L547.2,132.7 L546.5,131.8 L545.7,131.0 L545.0,130.2 L544.2,129.4 L543.5,128.5 L542.8,127.7 L542.1,126.9 L541.4,126.0 L540.7,125.2 L540.0,124.4 L539.3,123.5 L538.6,122.7 L538.0,121.8 L537.3,121.0 L536.7,120.1 L536.0,119.3 L535.4,118.4 L534.8,117.5 L534.1,116.7 L533.5,115.8 L533.3,115.4 L533.0,115.8 L532.5,116.7Z" fill="#fbfbfd" stroke="none"/>
<path d="M601.3,168.6 L602.0,168.7 L602.7,168.9 L603.4,169.0 L604.1,169.2 L604.8,169.3 L605.5,169.4 L606.2,169.5 L606.9,169.6 L607.5,169.6 L608.2,169.7 L608.8,169.7 L609.5,169.7 L610.1,169.7 L610.7,169.7 L611.3,169.7 L611.9,169.7 L612.5,169.6 L613.1,169.6 L613.7,169.5 L614.2,169.4 L614.8,169.3 L615.3,169.2 L615.8,169.1 L616.4,169.0 L616.9,168.8 L617.4,168.6 L617.8,168.5 L618.3,168.3 L618.8,168.1 L619.2,167.9 L619.7,167.6 L620.1,167.4 L620.5,167.1 L620.9,166.9 L621.3,166.6 L621.7,166.3 L622.1,166.0 L622.4,165.7 L622.8,165.3 L623.1,165.0 L623.4,164.6 L623.7,164.3 L624.0,163.9 L624.3,163.5 L624.6,163.1 L624.8,162.7 L625.1,162.2 L625.3,161.8 L625.5,161.3 L625.7,160.9 L625.9,160.4 L626.1,159.9 L626.2,159.4 L626.4,158.9 L626.5,158.4 L626.7,157.9 L626.8,157.3 L626.9,156.8 L627.0,156.2 L627.0,155.7 L627.1,155.1 L627.1,154.5 L627.2,153.9 L627.2,153.3 L627.2,152.7 L627.2,152.0 L627.1,151.4 L627.1,150.8 L627.1,150.1 L627.0,149.4 L626.9,148.8 L626.8,148.1 L626.7,147.4 L626.6,146.7 L626.5,146.0 L626.3,145.3 L626.2,144.6 L626.0,143.8 L625.8,143.1 L625.6,142.4 L625.4,141.6 L625.2,140.9 L625.0,140.1 L624.7,139.3 L624.4,138.6 L624.2,137.8 L623.9,137.0 L623.6,136.2 L623.3,135.4 L623.0,134.6 L622.6,133.8 L622.3,133.0 L621.9,132.2 L621.5,131.4 L621.1,130.6 L620.7,129.7 L620.3,128.9 L619.9,128.1 L619.5,127.3 L619.0,126.4 L618.6,125.6 L618.1,124.7 L617.6,123.9 L617.1,123.0 L616.6,122.2 L616.1,121.3 L615.6,120.5 L615.1,119.6 L614.5,118.8 L614.0,117.9 L613.4,117.1 L612.8,116.2 L612.3,115.4 L611.9,114.9 L611.7,115.3 L611.1,116.1 L610.6,116.9 L610.0,117.7 L609.4,118.6 L608.9,119.4 L608.3,120.2 L607.7,121.0 L607.1,121.8 L606.4,122.6 L605.8,123.4 L605.2,124.2 L604.5,125.0 L603.9,125.8 L603.2,126.6 L602.6,127.4 L601.9,128.2 L601.2,129.0 L600.5,129.8 L599.9,130.6 L599.2,131.3 L598.5,132.1 L597.7,132.9 L597.0,133.6 L596.3,134.4 L595.6,135.2 L594.8,135.9 L594.1,136.7 L593.4,137.4 L593.1,137.7 L593.3,138.1 L593.7,139.0 L594.1,139.9 L594.5,140.8 L594.9,141.7 L595.2,142.6 L595.6,143.5 L595.9,144.4 L596.3,145.3 L596.6,146.2 L596.9,147.1 L597.2,148.0 L597.4,148.9 L597.7,149.8 L597.9,150.6 L598.2,151.5 L598.4,152.4 L598.6,153.2 L598.8,154.1 L599.0,155.0 L599.1,155.8 L599.3,156.7 L599.4,157.5 L599.5,158.3 L599.6,159.2 L599.7,160.0 L599.8,160.8 L599.9,161.6 L599.9,162.4 L599.9,163.2 L600.0,164.0 L600.0,164.8 L600.0,165.6 L599.9,166.4 L599.9,167.1 L599.9,167.9 L599.8,168.2 L600.5,168.4 L601.3,168.6Z" fill="#ebedf5" stroke="none"/>
<path d="M592.4,136.3 L592.0,135.4 L591.5,134.5 L591.0,133.6 L590.5,132.7 L590.0,131.8 L589.5,130.9 L589.0,129.9 L588.4,129.0 L587.9,128.1 L587.3,127.2 L586.7,126.3 L586.2,125.5 L585.6,124.6 L585.0,123.7 L584.3,122.8 L583.7,121.9 L583.1,121.0 L582.4,120.1 L581.8,119.3 L581.1,118.4 L580.4,117.5 L579.8,116.7 L579.1,115.8 L578.4,115.0 L577.6,114.1 L576.9,113.3 L576.2,112.4 L575.5,111.6 L574.7,110.8 L574.0,110.0 L573.2,109.2 L572.6,108.5 L572.0,109.2 L571.2,110.0 L570.5,110.8 L569.7,111.6 L569.0,112.4 L568.3,113.3 L567.6,114.1 L566.8,115.0 L566.1,115.8 L565.4,116.7 L564.8,117.5 L564.1,118.4 L563.4,119.3 L562.8,120.1 L562.1,121.0 L561.5,121.9 L560.9,122.8 L560.2,123.7 L559.6,124.6 L559.0,125.5 L558.5,126.3 L557.9,127.2 L557.3,128.1 L556.8,129.0 L556.2,129.9 L555.7,130.9 L555.2,131.8 L554.7,132.7 L554.2,133.6 L553.7,134.5 L553.2,135.4 L552.8,136.3 L552.4,137.2 L552.1,137.7 L552.7,138.2 L553.5,139.0 L554.3,139.8 L555.1,140.5 L555.9,141.3 L556.7,142.0 L557.6,142.8 L558.4,143.5 L559.2,144.2 L560.0,145.0 L560.9,145.7 L561.7,146.4 L562.6,147.1 L563.4,147.8 L564.3,148.5 L565.1,149.1 L565.9,149.8 L566.8,150.5 L567.7,151.1 L568.5,151.8 L569.4,152.4 L570.2,153.0 L571.1,153.6 L571.9,154.2 L572.3,154.5 L572.7,154.2 L573.5,153.7 L574.4,153.1 L575.2,152.6 L576.0,152.0 L576.8,151.4 L577.6,150.8 L578.4,150.2 L579.2,149.6 L580.0,149.0 L580.9,148.4 L581.7,147.7 L582.5,147.1 L583.3,146.5 L584.1,145.8 L584.9,145.1 L585.6,144.5 L586.4,143.8 L587.2,143.1 L588.0,142.4 L588.8,141.7 L589.6,141.0 L590.3,140.3 L591.1,139.6 L591.8,138.9 L592.6,138.1 L593.1,137.7 L592.8,137.2 L592.4,136.3Z" fill="#b4bcda" stroke="none"/>
<path d="M551.9,138.1 L551.5,139.0 L551.1,139.9 L550.7,140.8 L550.3,141.7 L550.0,142.6 L549.6,143.5 L549.3,144.4 L548.9,145.3 L548.6,146.2 L548.3,147.1 L548.0,148.0 L547.8,148.9 L547.5,149.8 L547.3,150.6 L547.0,151.5 L546.8,152.4 L546.6,153.2 L546.4,154.1 L546.2,155.0 L546.1,155.8 L545.9,156.7 L545.8,157.5 L545.7,158.3 L545.6,159.2 L545.5,160.0 L545.4,160.8 L545.3,161.6 L545.3,162.4 L545.3,163.2 L545.2,164.0 L545.2,164.8 L545.2,165.6 L545.3,166.4 L545.3,166.4 L545.6,166.4 L546.3,166.2 L547.0,166.1 L547.7,165.9 L548.4,165.7 L549.1,165.5 L549.9,165.3 L550.6,165.1 L551.3,164.9 L552.1,164.6 L552.8,164.4 L553.6,164.1 L554.4,163.8 L555.1,163.5 L555.9,163.2 L556.7,162.9 L557.4,162.6 L558.2,162.2 L559.0,161.9 L559.8,161.5 L560.6,161.1 L561.4,160.8 L562.2,160.4 L563.0,159.9 L563.8,159.5 L564.6,159.1 L565.4,158.7 L566.2,158.2 L567.0,157.7 L567.8,157.3 L568.7,156.8 L569.5,156.3 L570.3,155.8 L571.1,155.3 L571.9,154.8 L572.3,154.5 L571.9,154.2 L571.1,153.6 L570.2,153.0 L569.4,152.4 L568.5,151.8 L567.7,151.1 L566.8,150.5 L565.9,149.8 L565.1,149.1 L564.3,148.5 L563.4,147.8 L562.6,147.1 L561.7,146.4 L560.9,145.7 L560.0,145.0 L559.2,144.2 L558.4,143.5 L557.6,142.8 L556.7,142.0 L555.9,141.3 L555.1,140.5 L554.3,139.8 L553.5,139.0 L552.7,138.2 L552.1,137.7 L551.9,138.1Z" fill="#e0e3f0" stroke="none"/>
<path d="M599.9,166.4 L600.0,165.6 L600.0,164.8 L600.0,164.0 L599.9,163.2 L599.9,162.4 L599.9,161.6 L599.8,160.8 L599.7,160.0 L599.6,159.2 L599.5,158.3 L599.4,157.5 L599.3,156.7 L599.1,155.8 L599.0,155.0 L598.8,154.1 L598.6,153.2 L598.4,152.4 L598.2,151.5 L597.9,150.6 L597.7,149.8 L597.4,148.9 L597.2,148.0 L596.9,147.1 L596.6,146.2 L596.3,145.3 L595.9,144.4 L595.6,143.5 L595.2,142.6 L594.9,141.7 L594.5,140.8 L594.1,139.9 L593.7,139.0 L593.3,138.1 L593.1,137.7 L592.6,138.1 L591.8,138.9 L591.1,139.6 L590.3,140.3 L589.6,141.0 L588.8,141.7 L588.0,142.4 L587.2,143.1 L586.4,143.8 L585.6,144.5 L584.9,145.1 L584.1,145.8 L583.3,146.5 L582.5,147.1 L581.7,147.7 L580.9,148.4 L580.0,149.0 L579.2,149.6 L578.4,150.2 L577.6,150.8 L576.8,151.4 L576.0,152.0 L575.2,152.6 L574.4,153.1 L573.5,153.7 L572.7,154.2 L572.3,154.5 L572.8,154.8 L573.6,155.4 L574.5,156.0 L575.4,156.5 L576.2,157.1 L577.1,157.6 L577.9,158.2 L578.8,158.7 L579.6,159.2 L580.5,159.7 L581.3,160.2 L582.2,160.7 L583.0,161.1 L583.9,161.6 L584.7,162.0 L585.5,162.5 L586.4,162.9 L587.2,163.3 L588.0,163.7 L588.8,164.1 L589.6,164.5 L590.5,164.8 L591.3,165.2 L592.1,165.5 L592.9,165.8 L593.7,166.1 L594.5,166.4 L595.2,166.7 L596.0,167.0 L596.8,167.3 L597.5,167.5 L598.3,167.8 L599.1,168.0 L599.8,168.2 L599.8,168.2 L599.9,167.9 L599.9,167.1 L599.9,166.4Z" fill="#5668ac" stroke="none"/>
<path d="M574.6,193.1 L575.4,193.0 L576.1,192.9 L576.9,192.9 L577.6,192.7 L578.3,192.6 L579.0,192.5 L579.7,192.3 L580.4,192.2 L581.0,192.0 L581.7,191.8 L582.4,191.6 L583.0,191.4 L583.7,191.1 L584.3,190.9 L584.9,190.6 L585.5,190.4 L586.1,190.1 L586.7,189.8 L587.3,189.5 L587.8,189.1 L588.4,188.8 L588.9,188.4 L589.4,188.1 L590.0,187.7 L590.5,187.3 L591.0,186.9 L591.4,186.5 L591.9,186.0 L592.4,185.6 L592.8,185.1 L593.2,184.7 L593.7,184.2 L594.1,183.7 L594.5,183.2 L594.8,182.7 L595.2,182.1 L595.6,181.6 L595.9,181.1 L596.2,180.5 L596.5,179.9 L596.8,179.3 L597.1,178.7 L597.4,178.1 L597.7,177.5 L597.9,176.9 L598.1,176.3 L598.4,175.6 L598.6,175.0 L598.8,174.3 L598.9,173.6 L599.1,172.9 L599.3,172.2 L599.4,171.5 L599.5,170.8 L599.6,170.1 L599.7,169.4 L599.8,168.6 L599.8,168.2 L599.8,168.2 L599.1,168.0 L598.3,167.8 L597.5,167.5 L596.8,167.3 L596.0,167.0 L595.2,166.7 L594.5,166.4 L593.7,166.1 L592.9,165.8 L592.1,165.5 L591.3,165.2 L590.5,164.8 L589.6,164.5 L588.8,164.1 L588.0,163.7 L587.2,163.3 L586.4,162.9 L585.5,162.5 L584.7,162.0 L583.9,161.6 L583.0,161.1 L582.2,160.7 L581.3,160.2 L580.5,159.7 L579.6,159.2 L578.8,158.7 L577.9,158.2 L577.1,157.6 L576.2,157.1 L575.4,156.5 L574.5,156.0 L573.6,155.4 L572.8,154.8 L572.3,154.5 L571.9,154.8 L571.1,155.3 L570.3,155.8 L569.5,156.3 L568.7,156.8 L567.8,157.3 L567.0,157.7 L566.2,158.2 L565.4,158.7 L564.6,159.1 L563.8,159.5 L563.0,159.9 L562.2,160.4 L561.4,160.8 L560.6,161.1 L559.8,161.5 L559.0,161.9 L558.2,162.2 L557.4,162.6 L556.7,162.9 L555.9,163.2 L555.1,163.5 L554.4,163.8 L553.6,164.1 L552.8,164.4 L552.1,164.6 L551.3,164.9 L550.6,165.1 L549.9,165.3 L549.1,165.5 L548.4,165.7 L547.7,165.9 L547.0,166.1 L546.3,166.2 L545.6,166.4 L545.3,166.4 L545.3,167.1 L545.3,167.9 L545.4,168.6 L545.5,169.4 L545.6,170.1 L545.7,170.8 L545.8,171.5 L545.9,172.2 L546.1,172.9 L546.3,173.6 L546.4,174.3 L546.6,175.0 L546.8,175.6 L547.1,176.3 L547.3,176.9 L547.5,177.5 L547.8,178.1 L548.1,178.7 L548.4,179.3 L548.7,179.9 L549.0,180.5 L549.3,181.1 L549.6,181.6 L550.0,182.1 L550.4,182.7 L550.7,183.2 L551.1,183.7 L551.5,184.2 L552.0,184.7 L552.4,185.1 L552.8,185.6 L553.3,186.0 L553.8,186.5 L554.2,186.9 L554.7,187.3 L555.2,187.7 L555.8,188.1 L556.3,188.4 L556.8,188.8 L557.4,189.1 L557.9,189.5 L558.5,189.8 L559.1,190.1 L559.7,190.4 L560.3,190.6 L560.9,190.9 L561.5,191.1 L562.2,191.4 L562.8,191.6 L563.5,191.8 L564.2,192.0 L564.8,192.2 L565.5,192.3 L566.2,192.5 L566.9,192.6 L567.6,192.7 L568.3,192.9 L569.1,192.9 L569.8,193.0 L570.6,193.1 L571.3,193.1 L572.1,193.2 L572.6,193.2 L573.1,193.2 L573.9,193.1 L574.6,193.1Z" fill="#7281ba" stroke="none"/>
<ellipse cx="542.20" cy="135.43" rx="70.94" ry="40.54" transform="rotate(-135.0 542.20 135.43)" fill="none" stroke="#333" stroke-width="0.5"/>
<ellipse cx="572.60" cy="115.16" rx="70.94" ry="30.40" transform="rotate(-135.0 572.60 115.16)" fill="none" stroke="#333" stroke-width="0.5"/>
<ellipse cx="572.60" cy="115.16" rx="66.89" ry="30.40" transform="rotate(-45.0 572.60 115.16)" fill="none" stroke="#333" stroke-width="0.5"/>
<ellipse cx="603.00" cy="135.43" rx="70.94" ry="40.54" transform="rotate(-45.0 603.00 135.43)" fill="none" stroke="#333" stroke-width="0.5"/>
<text x="543.70" y="77.00" font-size="6.3" text-anchor="middle" fill="#1a1a1a">1</text>
<text x="533.10" y="96.60" font-size="6.3" text-anchor="middle" fill="#1a1a1a">7</text>
<text x="572.40" y="94.30" font-size="6.3" text-anchor="middle" fill="#1a1a1a">1</text>
<text x="552.40" y="115.80" font-size="6.3" text-anchor="middle" fill="#1a1a1a">5</text>
<text x="592.50" y="115.80" font-size="6.3" text-anchor="middle" fill="#1a1a1a">2</text>
<text x="511.60" y="128.00" font-size="6.3" text-anchor="middle" fill="#1a1a1a">11</text>
<text x="572.40" y="135.80" font-size="6.3" text-anchor="middle" fill="#1a1a1a">19</text>
<text x="599.80" y="78.20" font-size="6.3" text-anchor="middle" fill="#1a1a1a">0</text>
<text x="610.90" y="96.60" font-size="6.3" text-anchor="middle" fill="#1a1a1a">0</text>
<text x="634.10" y="125.60" font-size="6.3" text-anchor="middle" fill="#1a1a1a">9</text>
<text x="535.00" y="147.30" font-size="6.3" text-anchor="middle" fill="#1a1a1a">1</text>
<text x="555.90" y="156.50" font-size="6.3" text-anchor="middle" fill="#1a1a1a">8</text>
<text x="589.40" y="157.00" font-size="6.3" text-anchor="middle" fill="#1a1a1a">43</text>
<text x="611.50" y="148.60" font-size="6.3" text-anchor="middle" fill="#1a1a1a">5</text>
<text x="572.40" y="177.80" font-size="6.3" text-anchor="middle" fill="#1a1a1a">36</text>
<text x="487.30" y="75.22" font-size="6.9" text-anchor="middle" fill="#000">Age</text>
<text x="523.90" y="59.22" font-size="6.9" text-anchor="middle" fill="#000">Sex</text>
<text x="615.30" y="61.12" font-size="6.9" text-anchor="middle" fill="#000">Puberty</text>
<text x="659.30" y="70.52" font-size="6.9" text-anchor="middle" fill="#000">Overweight</text>
<text x="660.00" y="80.12" font-size="6.9" text-anchor="middle" fill="#000">/ obesity</text>
<circle cx="299.20" cy="505.80" r="2.4" fill="#5571b6" stroke="#fff" stroke-width="0.5"/>
<text x="308.60" y="508.28" font-size="6.8" text-anchor="middle" fill="#000">-</text>
<circle cx="317.30" cy="505.80" r="2.4" fill="#c6c6c6" stroke="#fff" stroke-width="0.5"/>
<text x="326.10" y="508.30" font-size="6.85" text-anchor="start" fill="#000">Not Significant</text>
<circle cx="379.10" cy="505.80" r="2.4" fill="#951a1e" stroke="#fff" stroke-width="0.5"/>
<text x="389.20" y="508.28" font-size="6.8" text-anchor="middle" fill="#000">+</text></svg>
</body></html>
